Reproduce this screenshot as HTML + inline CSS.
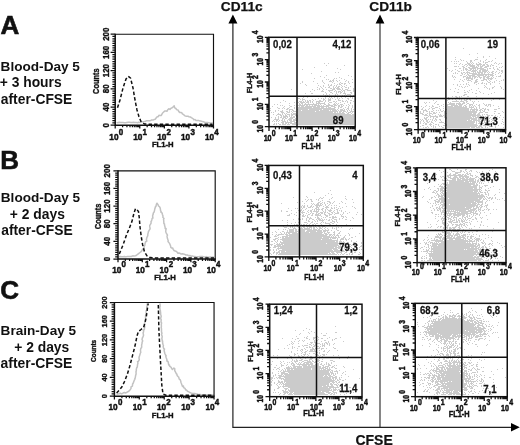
<!DOCTYPE html>
<html><head><meta charset="utf-8"><title>Figure</title><style>html,body{margin:0;padding:0;background:#fff}svg{display:block}</style></head><body>
<svg width="520" height="445" viewBox="0 0 520 445" font-family="'Liberation Sans', sans-serif" font-weight="bold">
<rect width="520" height="445" fill="#fff"/>
<text transform="translate(0.40,33.90)" font-size="26" text-anchor="start" fill="#111"  stroke="#111" stroke-width="0.6">A</text>
<text transform="translate(0.20,169.20)" font-size="26" text-anchor="start" fill="#111"  stroke="#111" stroke-width="0.6">B</text>
<text transform="translate(0.20,299.40)" font-size="26" text-anchor="start" fill="#111"  stroke="#111" stroke-width="0.6">C</text>
<text transform="translate(0.60,70.70)" font-size="13.6" text-anchor="start" fill="#111" >Blood-Day 5</text>
<text transform="translate(-0.30,87.40)" font-size="13.85" text-anchor="start" fill="#111" >+ 3 hours</text>
<text transform="translate(0.80,103.60)" font-size="13.85" text-anchor="start" fill="#111" >after-CFSE</text>
<text transform="translate(0.80,202.30)" font-size="13.6" text-anchor="start" fill="#111" >Blood-Day 5</text>
<text transform="translate(9.80,219.00)" font-size="13.85" text-anchor="start" fill="#111" >+ 2 days</text>
<text transform="translate(1.20,235.30)" font-size="13.85" text-anchor="start" fill="#111" >after-CFSE</text>
<text transform="translate(0.60,335.00)" font-size="13.6" text-anchor="start" fill="#111" >Brain-Day 5</text>
<text transform="translate(14.20,351.50)" font-size="13.85" text-anchor="start" fill="#111" >+ 2 days</text>
<text transform="translate(0.60,367.60)" font-size="13.9" text-anchor="start" fill="#111" >after-CFSE</text>
<text transform="translate(220.80,10.60)" font-size="13.7" text-anchor="start" fill="#111"  stroke="#111" stroke-width="0.25">CD11c</text>
<text transform="translate(369.30,10.60)" font-size="13.7" text-anchor="start" fill="#111"  stroke="#111" stroke-width="0.25">CD11b</text>
<text transform="translate(355.40,444.90)" font-size="14.0" text-anchor="start" fill="#111"  stroke="#111" stroke-width="0.2">CFSE</text>
<path d="M232.9 20V427.3H515" stroke="#222" stroke-width="1.2" fill="none"/>
<path d="M380 20V427.2" stroke="#222" stroke-width="1.1" fill="none"/>
<path d="M232.9 14.6l4.5 8.9h-9zM380 14.6l4.4 8.8h-8.8zM519.8 427.3l-8.8 4.2v-8.4z" fill="#000"/>
<path d="M116.5 122.6L118.0 122.7L119.1 122.3L120.4 122.5L121.7 122.5L123.0 122.5L124.2 122.7L125.7 122.8L126.9 122.4L128.2 122.2L129.6 122.3L130.8 122.4L132.3 122.5L133.4 122.3L134.8 122.4L136.0 122.4L137.5 122.8L138.6 122.3L140.0 122.4L141.3 121.7L142.6 121.7L144.2 121.6L145.2 121.5L146.7 120.7L148.0 120.8L149.3 120.7L150.8 120.4L151.6 120.0L153.1 120.1L154.0 119.5L155.2 119.2L156.3 117.7L157.2 116.7L158.0 116.8L158.9 115.3L160.0 115.5L161.1 115.4L161.6 114.9L162.4 113.2L163.4 112.3L164.7 111.1L166.0 111.0L167.1 111.3L167.6 110.0L168.8 108.7L169.9 109.4L171.0 108.2L172.2 107.8L173.3 106.7L174.2 105.8L174.7 107.9L176.0 108.5L176.5 109.6L178.0 110.0L178.7 111.4L179.9 112.6L181.0 112.5L182.0 112.9L182.2 113.7L183.8 114.8L185.0 115.9L186.3 116.3L188.0 116.3L189.0 116.7L190.3 116.9L191.3 117.7L193.0 118.6L193.9 119.9L195.0 119.4L195.8 120.4L197.4 120.6L199.0 120.6L200.3 121.0L201.2 121.1L202.5 121.6L203.5 121.8L204.7 122.2L206.0 122.5L207.3 122.5L208.8 122.7L210.0 122.9L211.4 122.9L212.8 123.0" stroke="#c2c2c2" stroke-width="1.5" fill="none" stroke-linejoin="round"/>
<path d="M117.5 107.8L120.0 100.0L123.0 88.0L126.0 79.0L128.3 76.3L130.5 78.0L133.0 88.0L135.0 100.0L137.0 110.0L139.0 116.8L141.0 121.5L144.5 124.0L150.0 124.3L212.5 124.3" stroke="#111" stroke-width="1.5" fill="none" stroke-dasharray="3.4 2.2" stroke-linejoin="round"/>
<path d="M115.2 34.2H213.5V125.2" fill="none" stroke="#111" stroke-width="1.15"/>
<path d="M115.2 33.7V125.2H214.0" fill="none" stroke="#111" stroke-width="1.5"/>
<path d="M115.20 125.2v3.2M139.78 125.2v3.2M164.35 125.2v3.2M188.93 125.2v3.2M213.50 125.2v3.2M122.60 125.2v2M126.93 125.2v2M130.00 125.2v2M132.38 125.2v2M134.32 125.2v2M135.97 125.2v2M137.39 125.2v2M138.65 125.2v2M147.17 125.2v2M151.50 125.2v2M154.57 125.2v2M156.95 125.2v2M158.90 125.2v2M160.54 125.2v2M161.97 125.2v2M163.23 125.2v2M171.75 125.2v2M176.08 125.2v2M179.15 125.2v2M181.53 125.2v2M183.47 125.2v2M185.12 125.2v2M186.54 125.2v2M187.80 125.2v2M196.32 125.2v2M200.65 125.2v2M203.72 125.2v2M206.10 125.2v2M208.05 125.2v2M209.69 125.2v2M211.12 125.2v2M212.38 125.2v2M115.2 125.20h-4.6M115.2 122.92h-2.8M115.2 120.65h-2.8M115.2 118.38h-2.8M115.2 116.10h-2.8M115.2 113.83h-2.8M115.2 111.55h-2.8M115.2 109.28h-2.8M115.2 107.00h-4.6M115.2 104.72h-2.8M115.2 102.45h-2.8M115.2 100.18h-2.8M115.2 97.90h-2.8M115.2 95.62h-2.8M115.2 93.35h-2.8M115.2 91.08h-2.8M115.2 88.80h-4.6M115.2 86.53h-2.8M115.2 84.25h-2.8M115.2 81.97h-2.8M115.2 79.70h-2.8M115.2 77.43h-2.8M115.2 75.15h-2.8M115.2 72.88h-2.8M115.2 70.60h-4.6M115.2 68.33h-2.8M115.2 66.05h-2.8M115.2 63.78h-2.8M115.2 61.50h-2.8M115.2 59.23h-2.8M115.2 56.95h-2.8M115.2 54.67h-2.8M115.2 52.40h-4.6M115.2 50.12h-2.8M115.2 47.85h-2.8M115.2 45.58h-2.8M115.2 43.30h-2.8M115.2 41.03h-2.8M115.2 38.75h-2.8M115.2 36.48h-2.8M115.2 34.20h-4.6" stroke="#111" stroke-width="1.25" fill="none"/>
<text transform="translate(109.33,139.80) scale(0.84,1)" font-size="9.8" text-anchor="start" fill="#111"  stroke="#111" stroke-width="0.5">10</text>
<text transform="translate(118.69,134.50) scale(0.84,1)" font-size="9.5" text-anchor="start" fill="#111"  stroke="#111" stroke-width="0.5">0</text>
<text transform="translate(133.23,139.80) scale(0.84,1)" font-size="9.8" text-anchor="start" fill="#111"  stroke="#111" stroke-width="0.5">10</text>
<text transform="translate(142.59,134.50) scale(0.84,1)" font-size="9.5" text-anchor="start" fill="#111"  stroke="#111" stroke-width="0.5">1</text>
<text transform="translate(157.13,139.80) scale(0.84,1)" font-size="9.8" text-anchor="start" fill="#111"  stroke="#111" stroke-width="0.5">10</text>
<text transform="translate(166.49,134.50) scale(0.84,1)" font-size="9.5" text-anchor="start" fill="#111"  stroke="#111" stroke-width="0.5">2</text>
<text transform="translate(181.03,139.80) scale(0.84,1)" font-size="9.8" text-anchor="start" fill="#111"  stroke="#111" stroke-width="0.5">10</text>
<text transform="translate(190.39,134.50) scale(0.84,1)" font-size="9.5" text-anchor="start" fill="#111"  stroke="#111" stroke-width="0.5">3</text>
<text transform="translate(204.93,139.80) scale(0.84,1)" font-size="9.8" text-anchor="start" fill="#111"  stroke="#111" stroke-width="0.5">10</text>
<text transform="translate(214.29,134.50) scale(0.84,1)" font-size="9.5" text-anchor="start" fill="#111"  stroke="#111" stroke-width="0.5">4</text>
<text transform="translate(108.60,125.20) rotate(-90) scale(0.95,1)" font-size="8.4" text-anchor="middle" fill="#111"  stroke="#111" stroke-width="0.35">0</text>
<text transform="translate(108.60,107.00) rotate(-90) scale(0.95,1)" font-size="8.4" text-anchor="middle" fill="#111"  stroke="#111" stroke-width="0.35">40</text>
<text transform="translate(108.60,88.80) rotate(-90) scale(0.95,1)" font-size="8.4" text-anchor="middle" fill="#111"  stroke="#111" stroke-width="0.35">80</text>
<text transform="translate(108.60,70.60) rotate(-90) scale(0.95,1)" font-size="8.4" text-anchor="middle" fill="#111"  stroke="#111" stroke-width="0.35">120</text>
<text transform="translate(108.60,52.40) rotate(-90) scale(0.95,1)" font-size="8.4" text-anchor="middle" fill="#111"  stroke="#111" stroke-width="0.35">160</text>
<text transform="translate(108.60,34.20) rotate(-90) scale(0.95,1)" font-size="8.4" text-anchor="middle" fill="#111"  stroke="#111" stroke-width="0.35">200</text>
<text transform="translate(99.00,81.20) rotate(-90) scale(0.9,1)" font-size="8.2" text-anchor="middle" fill="#111"  stroke="#111" stroke-width="0.35">Counts</text>
<text transform="translate(162.75,147.40) scale(0.96,1)" font-size="8.0" text-anchor="middle" fill="#111"  stroke="#111" stroke-width="0.4">FL1-H</text>
<path d="M119.0 256.7L120.3 256.4L121.8 256.7L123.1 256.7L124.4 256.5L125.9 256.9L127.3 256.5L128.7 256.4L130.0 256.5L131.3 256.5L132.7 255.8L134.0 255.9L135.5 255.7L136.6 255.2L137.6 254.3L138.9 253.3L140.0 252.5L141.1 251.7L141.6 251.0L142.4 249.6L143.6 248.6L144.0 247.6L144.2 246.1L144.8 245.5L145.0 243.7L145.6 241.7L146.8 241.2L146.5 240.0L146.4 239.4L146.9 237.5L147.8 235.6L147.8 234.3L148.3 232.4L148.3 231.9L149.0 230.6L149.6 229.7L150.1 228.6L149.8 226.9L149.7 225.3L150.3 224.7L151.1 223.1L151.0 221.3L151.5 221.0L151.8 219.9L152.2 218.2L152.9 218.1L152.6 215.9L152.8 215.1L153.2 214.1L153.5 212.6L154.1 212.1L154.6 210.1L154.8 208.7L154.9 208.8L155.5 206.5L155.9 206.5L156.4 204.4L157.0 203.2L158.0 204.6L158.5 206.0L159.4 206.6L160.0 207.5L160.3 208.6L160.6 210.7L161.2 211.9L160.9 212.1L162.2 213.1L162.4 214.4L163.0 216.1L162.8 217.3L164.0 218.5L163.5 219.5L163.7 220.3L163.9 223.7L164.5 224.0L164.5 225.0L165.1 227.3L165.2 228.6L165.6 228.8L166.1 228.6L165.7 231.3L165.9 232.2L166.3 233.2L167.5 235.1L167.0 236.0L167.3 238.0L167.7 239.1L168.2 240.8L168.0 241.6L168.8 242.5L169.3 243.0L170.0 244.4L170.7 246.3L170.7 247.2L171.7 248.1L172.6 247.9L173.2 249.4L174.0 250.5L175.3 251.1L176.5 251.4L177.9 253.2L178.8 253.0L180.0 253.3L181.2 254.0L182.7 253.7L183.5 254.0L184.7 254.3L186.0 255.0L187.3 255.0L188.7 255.7L189.8 255.5L191.1 256.2L192.3 255.9L193.7 256.4L195.0 256.6L196.2 256.9L197.6 256.8L198.7 256.7L200.1 256.4L201.4 256.5L202.6 256.6L204.0 256.9L205.2 257.1L206.3 256.6L207.6 257.1L208.9 257.2L210.3 256.9L211.5 257.2L212.7 256.9L214.0 257.2" stroke="#c2c2c2" stroke-width="1.5" fill="none" stroke-linejoin="round"/>
<path d="M119.3 254.0L123.0 245.0L126.5 235.0L129.0 229.0L131.9 221.6L134.0 213.0L135.5 208.6L137.0 209.5L138.5 211.7L139.3 218.0L140.0 227.0L141.3 237.0L142.7 245.0L144.5 252.0L147.0 255.8L150.0 257.6L154.0 258.0L214.0 258.0" stroke="#111" stroke-width="1.5" fill="none" stroke-dasharray="3.4 2.2" stroke-linejoin="round"/>
<path d="M118.0 170.8H215.2V259.0" fill="none" stroke="#111" stroke-width="1.15"/>
<path d="M118.0 170.3V259.0H215.7" fill="none" stroke="#111" stroke-width="1.5"/>
<path d="M118.00 259.0v3.2M142.30 259.0v3.2M166.60 259.0v3.2M190.90 259.0v3.2M215.20 259.0v3.2M125.32 259.0v2M129.59 259.0v2M132.63 259.0v2M134.98 259.0v2M136.91 259.0v2M138.54 259.0v2M139.95 259.0v2M141.19 259.0v2M149.62 259.0v2M153.89 259.0v2M156.93 259.0v2M159.28 259.0v2M161.21 259.0v2M162.84 259.0v2M164.25 259.0v2M165.49 259.0v2M173.92 259.0v2M178.19 259.0v2M181.23 259.0v2M183.58 259.0v2M185.51 259.0v2M187.14 259.0v2M188.55 259.0v2M189.79 259.0v2M198.22 259.0v2M202.49 259.0v2M205.53 259.0v2M207.88 259.0v2M209.81 259.0v2M211.44 259.0v2M212.85 259.0v2M214.09 259.0v2M118.0 259.00h-4.6M118.0 256.80h-2.8M118.0 254.59h-2.8M118.0 252.38h-2.8M118.0 250.18h-2.8M118.0 247.97h-2.8M118.0 245.77h-2.8M118.0 243.56h-2.8M118.0 241.36h-4.6M118.0 239.16h-2.8M118.0 236.95h-2.8M118.0 234.75h-2.8M118.0 232.54h-2.8M118.0 230.34h-2.8M118.0 228.13h-2.8M118.0 225.93h-2.8M118.0 223.72h-4.6M118.0 221.51h-2.8M118.0 219.31h-2.8M118.0 217.11h-2.8M118.0 214.90h-2.8M118.0 212.69h-2.8M118.0 210.49h-2.8M118.0 208.29h-2.8M118.0 206.08h-4.6M118.0 203.88h-2.8M118.0 201.67h-2.8M118.0 199.47h-2.8M118.0 197.26h-2.8M118.0 195.06h-2.8M118.0 192.85h-2.8M118.0 190.65h-2.8M118.0 188.44h-4.6M118.0 186.24h-2.8M118.0 184.03h-2.8M118.0 181.83h-2.8M118.0 179.62h-2.8M118.0 177.42h-2.8M118.0 175.21h-2.8M118.0 173.00h-2.8M118.0 170.80h-4.6" stroke="#111" stroke-width="1.25" fill="none"/>
<text transform="translate(112.13,272.70) scale(0.84,1)" font-size="9.8" text-anchor="start" fill="#111"  stroke="#111" stroke-width="0.5">10</text>
<text transform="translate(121.49,267.40) scale(0.84,1)" font-size="9.5" text-anchor="start" fill="#111"  stroke="#111" stroke-width="0.5">0</text>
<text transform="translate(135.76,272.70) scale(0.84,1)" font-size="9.8" text-anchor="start" fill="#111"  stroke="#111" stroke-width="0.5">10</text>
<text transform="translate(145.11,267.40) scale(0.84,1)" font-size="9.5" text-anchor="start" fill="#111"  stroke="#111" stroke-width="0.5">1</text>
<text transform="translate(159.38,272.70) scale(0.84,1)" font-size="9.8" text-anchor="start" fill="#111"  stroke="#111" stroke-width="0.5">10</text>
<text transform="translate(168.74,267.40) scale(0.84,1)" font-size="9.5" text-anchor="start" fill="#111"  stroke="#111" stroke-width="0.5">2</text>
<text transform="translate(183.01,272.70) scale(0.84,1)" font-size="9.8" text-anchor="start" fill="#111"  stroke="#111" stroke-width="0.5">10</text>
<text transform="translate(192.36,267.40) scale(0.84,1)" font-size="9.5" text-anchor="start" fill="#111"  stroke="#111" stroke-width="0.5">3</text>
<text transform="translate(206.63,272.70) scale(0.84,1)" font-size="9.8" text-anchor="start" fill="#111"  stroke="#111" stroke-width="0.5">10</text>
<text transform="translate(215.99,267.40) scale(0.84,1)" font-size="9.5" text-anchor="start" fill="#111"  stroke="#111" stroke-width="0.5">4</text>
<text transform="translate(110.20,259.00) rotate(-90) scale(0.95,1)" font-size="8.4" text-anchor="middle" fill="#111"  stroke="#111" stroke-width="0.35">0</text>
<text transform="translate(110.20,241.36) rotate(-90) scale(0.95,1)" font-size="8.4" text-anchor="middle" fill="#111"  stroke="#111" stroke-width="0.35">40</text>
<text transform="translate(110.20,223.72) rotate(-90) scale(0.95,1)" font-size="8.4" text-anchor="middle" fill="#111"  stroke="#111" stroke-width="0.35">80</text>
<text transform="translate(110.20,206.08) rotate(-90) scale(0.95,1)" font-size="8.4" text-anchor="middle" fill="#111"  stroke="#111" stroke-width="0.35">120</text>
<text transform="translate(110.20,188.44) rotate(-90) scale(0.95,1)" font-size="8.4" text-anchor="middle" fill="#111"  stroke="#111" stroke-width="0.35">160</text>
<text transform="translate(110.20,170.80) rotate(-90) scale(0.95,1)" font-size="8.4" text-anchor="middle" fill="#111"  stroke="#111" stroke-width="0.35">200</text>
<text transform="translate(101.00,216.40) rotate(-90) scale(0.85,1)" font-size="8.8" text-anchor="middle" fill="#111"  stroke="#111" stroke-width="0.35">Counts</text>
<text transform="translate(165.00,280.30) scale(0.96,1)" font-size="8.0" text-anchor="middle" fill="#111"  stroke="#111" stroke-width="0.4">FL1-H</text>
<path d="M116.5 394.3L117.8 394.0L119.1 393.8L120.4 393.3L121.8 393.9L123.1 393.0L124.3 392.5L125.6 393.0L126.6 392.4L127.4 392.0L128.5 391.3L129.4 390.7L130.2 389.6L131.0 388.6L131.0 386.9L131.8 386.5L132.4 386.1L132.6 384.0L133.3 383.0L133.7 381.7L134.2 380.4L134.8 379.3L135.1 378.3L135.5 376.4L135.5 376.0L135.9 374.5L136.1 374.1L136.0 371.4L136.3 371.0L136.3 369.6L136.7 367.7L137.3 367.0L137.4 365.9L137.6 364.2L138.0 363.0L137.5 361.6L138.5 361.2L139.3 359.7L139.0 358.0L139.3 356.3L139.5 356.1L140.1 354.0L140.1 353.8L140.8 352.3L140.5 351.0L140.6 349.4L140.9 348.2L141.5 347.9L141.7 346.7L141.6 345.0L142.0 343.6L142.1 342.3L142.7 340.9L142.0 339.5L142.5 337.5L142.7 337.5L143.5 335.4L143.5 334.9L143.1 332.9L143.6 331.7L143.3 330.1L144.3 329.7L144.6 327.5L144.8 326.7L144.5 325.0L144.3 324.1L144.8 322.7L145.0 321.8L145.3 319.7L145.7 318.7L145.5 318.0L145.6 315.7L145.8 314.0L146.0 314.5L146.1 312.2L146.2 310.6L147.1 310.1L146.7 308.4L146.8 306.6L147.2 305.8L147.1 304.1L147.6 303.4M159.9 303.4L160.1 305.1L160.2 306.0L159.8 307.3L160.0 309.2L160.4 310.5L160.3 310.4L160.7 313.4L160.1 314.1L160.9 314.8L161.2 316.5L160.5 318.8L160.9 319.0L161.2 319.6L161.0 322.0L161.6 322.9L161.3 324.4L161.4 326.4L161.2 327.6L161.4 328.1L161.5 329.2L161.5 331.6L161.8 333.0L162.0 333.1L161.5 334.6L162.2 336.3L162.0 338.2L161.8 338.2L162.4 341.4L162.6 340.9L162.6 342.8L163.0 344.5L163.4 345.2L163.2 346.8L163.8 348.9L164.5 349.0L164.1 350.7L164.5 352.0L164.8 353.5L165.4 354.7L166.1 355.7L165.8 356.2L166.2 357.8L166.9 359.6L166.9 361.0L168.0 361.5L168.2 362.0L168.7 364.9L169.5 365.0L169.6 366.2L171.2 367.3L171.7 368.7L172.5 369.4L172.9 369.0L173.9 368.0L174.8 368.8L174.7 370.7L175.5 372.0L176.4 373.9L176.9 373.9L177.1 375.5L178.0 376.5L178.7 377.1L179.2 379.1L180.1 379.6L180.6 380.7L181.0 382.5L181.4 383.5L182.5 386.4L182.7 385.9L183.4 386.0L183.7 387.7L184.8 388.1L185.9 390.1L186.6 390.1L187.5 391.3L188.9 391.9L189.8 392.5L190.7 392.9L192.0 393.3L193.4 393.6L194.7 393.5L196.1 394.0L197.3 394.1L198.7 394.6L200.0 394.6L201.3 394.8L202.6 394.9L203.8 394.7L205.1 394.7L206.4 394.9L207.6 394.8L208.8 395.0L210.2 394.9L211.4 394.9L212.7 395.0L214.0 395.0" stroke="#c2c2c2" stroke-width="1.5" fill="none" stroke-linejoin="round"/>
<path d="M116.6 393.0L119.0 390.5L122.0 386.8L124.5 381.5L127.4 374.0L129.5 367.0L131.9 358.0L133.7 351.0L135.5 343.6L137.0 336.0L138.4 331.5L141.0 329.5L143.6 327.4L145.0 323.0L146.3 316.6L147.5 308.0L148.2 303.5M158.3 305.0L158.9 330.0L160.3 358.0L161.8 385.0L163.0 394.0L166.0 395.3L213.0 395.3" stroke="#111" stroke-width="1.5" fill="none" stroke-dasharray="3.4 2.2" stroke-linejoin="round"/>
<path d="M114.4 302.5H214.05V396.2" fill="none" stroke="#111" stroke-width="1.15"/>
<path d="M114.4 302.0V396.2H214.55" fill="none" stroke="#111" stroke-width="1.5"/>
<path d="M114.40 396.2v3.2M139.31 396.2v3.2M164.23 396.2v3.2M189.14 396.2v3.2M214.05 396.2v3.2M121.90 396.2v2M126.29 396.2v2M129.40 396.2v2M131.81 396.2v2M133.79 396.2v2M135.45 396.2v2M136.90 396.2v2M138.17 396.2v2M146.81 396.2v2M151.20 396.2v2M154.31 396.2v2M156.73 396.2v2M158.70 396.2v2M160.37 396.2v2M161.81 396.2v2M163.09 396.2v2M171.72 396.2v2M176.11 396.2v2M179.22 396.2v2M181.64 396.2v2M183.61 396.2v2M185.28 396.2v2M186.72 396.2v2M188.00 396.2v2M196.64 396.2v2M201.02 396.2v2M204.14 396.2v2M206.55 396.2v2M208.52 396.2v2M210.19 396.2v2M211.64 396.2v2M212.91 396.2v2M114.4 396.20h-4.6M114.4 393.86h-2.8M114.4 391.51h-2.8M114.4 389.17h-2.8M114.4 386.83h-2.8M114.4 384.49h-2.8M114.4 382.14h-2.8M114.4 379.80h-2.8M114.4 377.46h-4.6M114.4 375.12h-2.8M114.4 372.77h-2.8M114.4 370.43h-2.8M114.4 368.09h-2.8M114.4 365.75h-2.8M114.4 363.40h-2.8M114.4 361.06h-2.8M114.4 358.72h-4.6M114.4 356.38h-2.8M114.4 354.03h-2.8M114.4 351.69h-2.8M114.4 349.35h-2.8M114.4 347.01h-2.8M114.4 344.67h-2.8M114.4 342.32h-2.8M114.4 339.98h-4.6M114.4 337.64h-2.8M114.4 335.30h-2.8M114.4 332.95h-2.8M114.4 330.61h-2.8M114.4 328.27h-2.8M114.4 325.93h-2.8M114.4 323.58h-2.8M114.4 321.24h-4.6M114.4 318.90h-2.8M114.4 316.56h-2.8M114.4 314.21h-2.8M114.4 311.87h-2.8M114.4 309.53h-2.8M114.4 307.19h-2.8M114.4 304.84h-2.8M114.4 302.50h-4.6" stroke="#111" stroke-width="1.25" fill="none"/>
<text transform="translate(108.53,410.40) scale(0.84,1)" font-size="9.8" text-anchor="start" fill="#111"  stroke="#111" stroke-width="0.5">10</text>
<text transform="translate(117.89,405.10) scale(0.84,1)" font-size="9.5" text-anchor="start" fill="#111"  stroke="#111" stroke-width="0.5">0</text>
<text transform="translate(132.77,410.40) scale(0.84,1)" font-size="9.8" text-anchor="start" fill="#111"  stroke="#111" stroke-width="0.5">10</text>
<text transform="translate(142.13,405.10) scale(0.84,1)" font-size="9.5" text-anchor="start" fill="#111"  stroke="#111" stroke-width="0.5">1</text>
<text transform="translate(157.01,410.40) scale(0.84,1)" font-size="9.8" text-anchor="start" fill="#111"  stroke="#111" stroke-width="0.5">10</text>
<text transform="translate(166.36,405.10) scale(0.84,1)" font-size="9.5" text-anchor="start" fill="#111"  stroke="#111" stroke-width="0.5">2</text>
<text transform="translate(181.25,410.40) scale(0.84,1)" font-size="9.8" text-anchor="start" fill="#111"  stroke="#111" stroke-width="0.5">10</text>
<text transform="translate(190.60,405.10) scale(0.84,1)" font-size="9.5" text-anchor="start" fill="#111"  stroke="#111" stroke-width="0.5">3</text>
<text transform="translate(205.48,410.40) scale(0.84,1)" font-size="9.8" text-anchor="start" fill="#111"  stroke="#111" stroke-width="0.5">10</text>
<text transform="translate(214.84,405.10) scale(0.84,1)" font-size="9.5" text-anchor="start" fill="#111"  stroke="#111" stroke-width="0.5">4</text>
<text transform="translate(107.30,396.20) rotate(-90) scale(0.95,1)" font-size="7.8" text-anchor="middle" fill="#111"  stroke="#111" stroke-width="0.35">0</text>
<text transform="translate(107.30,377.46) rotate(-90) scale(0.95,1)" font-size="7.8" text-anchor="middle" fill="#111"  stroke="#111" stroke-width="0.35">40</text>
<text transform="translate(107.30,358.72) rotate(-90) scale(0.95,1)" font-size="7.8" text-anchor="middle" fill="#111"  stroke="#111" stroke-width="0.35">80</text>
<text transform="translate(107.30,339.98) rotate(-90) scale(0.95,1)" font-size="7.8" text-anchor="middle" fill="#111"  stroke="#111" stroke-width="0.35">120</text>
<text transform="translate(107.30,321.24) rotate(-90) scale(0.95,1)" font-size="7.8" text-anchor="middle" fill="#111"  stroke="#111" stroke-width="0.35">160</text>
<text transform="translate(107.30,302.50) rotate(-90) scale(0.95,1)" font-size="7.8" text-anchor="middle" fill="#111"  stroke="#111" stroke-width="0.35">200</text>
<text transform="translate(95.80,350.85) rotate(-90) scale(0.88,1)" font-size="7.3" text-anchor="middle" fill="#111"  stroke="#111" stroke-width="0.35">Counts</text>
<text transform="translate(162.63,417.50) scale(0.96,1)" font-size="8.0" text-anchor="middle" fill="#111"  stroke="#111" stroke-width="0.4">FL1-H</text>
<path d="M324 63h1v1h-1zM328 63h1v1h-1zM326 65h1v1h-1zM344 65h1v1h-1zM314 67h1v1h-1zM337 68h1v1h-1zM302 69h1v1h-1zM340 69h1v1h-1zM321 71h1v1h-1zM335 72h1v1h-1zM338 72h1v1h-1zM311 73h1v1h-1zM326 75h1v1h-1zM348 75h1v1h-1zM320 76h1v1h-1zM351 76h1v1h-1zM324 77h1v1h-1zM339 77h1v1h-1zM314 78h1v1h-1zM334 78h1v1h-1zM336 78h1v1h-1zM341 78h1v1h-1zM326 79h1v1h-1zM328 79h1v1h-1zM333 79h1v1h-1zM344 79h1v1h-1zM352 79h1v1h-1zM322 80h1v1h-1zM330 80h1v1h-1zM332 80h2v1h-2zM336 80h1v1h-1zM339 80h1v1h-1zM346 80h1v1h-1zM302 81h1v1h-1zM313 81h1v1h-1zM322 81h1v1h-1zM329 81h3v1h-3zM333 81h1v1h-1zM337 81h1v1h-1zM345 81h1v1h-1zM348 81h1v1h-1zM302 82h1v1h-1zM323 82h1v1h-1zM332 82h1v1h-1zM340 82h1v1h-1zM348 82h1v1h-1zM352 82h1v1h-1zM300 83h1v1h-1zM317 83h1v1h-1zM324 83h1v1h-1zM334 83h1v1h-1zM339 83h1v1h-1zM341 83h2v1h-2zM344 83h2v1h-2zM349 83h1v1h-1zM305 84h1v1h-1zM328 84h1v1h-1zM331 84h1v1h-1zM337 84h1v1h-1zM339 84h2v1h-2zM344 84h1v1h-1zM306 85h1v1h-1zM318 85h1v1h-1zM323 85h1v1h-1zM328 85h1v1h-1zM330 85h2v1h-2zM334 85h1v1h-1zM336 85h1v1h-1zM341 85h1v1h-1zM346 85h1v1h-1zM320 86h1v1h-1zM323 86h1v1h-1zM329 86h1v1h-1zM333 86h1v1h-1zM336 86h1v1h-1zM338 86h2v1h-2zM342 86h1v1h-1zM344 86h1v1h-1zM350 86h1v1h-1zM317 87h1v1h-1zM321 87h1v1h-1zM325 87h1v1h-1zM328 87h2v1h-2zM333 87h1v1h-1zM335 87h1v1h-1zM337 87h2v1h-2zM341 87h1v1h-1zM345 87h2v1h-2zM348 87h1v1h-1zM319 88h1v1h-1zM322 88h1v1h-1zM330 88h2v1h-2zM333 88h2v1h-2zM336 88h4v1h-4zM342 88h1v1h-1zM348 88h1v1h-1zM353 88h1v1h-1zM291 89h1v1h-1zM312 89h1v1h-1zM317 89h1v1h-1zM319 89h1v1h-1zM323 89h1v1h-1zM326 89h1v1h-1zM332 89h3v1h-3zM337 89h4v1h-4zM342 89h1v1h-1zM345 89h3v1h-3zM353 89h1v1h-1zM314 90h1v1h-1zM322 90h1v1h-1zM328 90h5v1h-5zM335 90h1v1h-1zM341 90h1v1h-1zM343 90h2v1h-2zM347 90h4v1h-4zM353 90h1v1h-1zM310 91h1v1h-1zM321 91h3v1h-3zM329 91h1v1h-1zM334 91h1v1h-1zM336 91h1v1h-1zM338 91h3v1h-3zM342 91h1v1h-1zM344 91h1v1h-1zM353 91h1v1h-1zM325 92h1v1h-1zM330 92h2v1h-2zM336 92h1v1h-1zM338 92h1v1h-1zM340 92h2v1h-2zM344 92h1v1h-1zM350 92h2v1h-2zM305 93h1v1h-1zM311 93h2v1h-2zM326 93h1v1h-1zM332 93h1v1h-1zM336 93h1v1h-1zM340 93h1v1h-1zM343 93h3v1h-3zM351 93h1v1h-1zM323 94h1v1h-1zM326 94h1v1h-1zM329 94h1v1h-1zM335 94h1v1h-1zM337 94h1v1h-1zM345 94h1v1h-1zM347 94h4v1h-4zM325 95h1v1h-1zM327 95h1v1h-1zM335 95h1v1h-1zM342 95h1v1h-1zM344 95h1v1h-1zM346 95h1v1h-1zM350 95h1v1h-1zM353 95h1v1h-1zM312 96h1v1h-1zM323 96h2v1h-2zM329 96h1v1h-1zM332 96h1v1h-1zM334 96h1v1h-1zM336 96h5v1h-5zM342 96h1v1h-1zM344 96h1v1h-1zM351 96h2v1h-2zM303 97h1v1h-1zM307 97h1v1h-1zM325 97h1v1h-1zM329 97h1v1h-1zM331 97h1v1h-1zM334 97h1v1h-1zM337 97h1v1h-1zM341 97h1v1h-1zM345 97h1v1h-1zM350 97h1v1h-1zM352 97h1v1h-1zM298 98h2v1h-2zM302 98h1v1h-1zM318 98h1v1h-1zM321 98h1v1h-1zM323 98h1v1h-1zM325 98h1v1h-1zM328 98h1v1h-1zM330 98h1v1h-1zM332 98h1v1h-1zM337 98h1v1h-1zM339 98h1v1h-1zM342 98h1v1h-1zM347 98h2v1h-2zM352 98h1v1h-1zM300 99h1v1h-1zM302 99h3v1h-3zM312 99h1v1h-1zM315 99h1v1h-1zM323 99h2v1h-2zM328 99h3v1h-3zM335 99h1v1h-1zM338 99h1v1h-1zM348 99h1v1h-1zM283 100h1v1h-1zM302 100h1v1h-1zM305 100h1v1h-1zM307 100h1v1h-1zM309 100h2v1h-2zM313 100h1v1h-1zM319 100h2v1h-2zM323 100h1v1h-1zM325 100h1v1h-1zM328 100h3v1h-3zM338 100h3v1h-3zM342 100h1v1h-1zM346 100h1v1h-1zM350 100h2v1h-2zM285 101h1v1h-1zM299 101h3v1h-3zM303 101h1v1h-1zM305 101h1v1h-1zM307 101h2v1h-2zM310 101h1v1h-1zM312 101h1v1h-1zM316 101h7v1h-7zM325 101h1v1h-1zM328 101h1v1h-1zM333 101h2v1h-2zM336 101h1v1h-1zM342 101h2v1h-2zM345 101h1v1h-1zM347 101h1v1h-1zM353 101h1v1h-1zM280 102h1v1h-1zM294 102h1v1h-1zM298 102h1v1h-1zM300 102h5v1h-5zM306 102h3v1h-3zM310 102h1v1h-1zM312 102h1v1h-1zM316 102h1v1h-1zM318 102h2v1h-2zM324 102h1v1h-1zM329 102h3v1h-3zM335 102h1v1h-1zM340 102h1v1h-1zM347 102h1v1h-1zM350 102h1v1h-1zM289 103h1v1h-1zM299 103h1v1h-1zM301 103h2v1h-2zM305 103h1v1h-1zM308 103h1v1h-1zM313 103h1v1h-1zM316 103h9v1h-9zM328 103h1v1h-1zM334 103h1v1h-1zM336 103h1v1h-1zM338 103h1v1h-1zM344 103h1v1h-1zM350 103h1v1h-1zM274 104h1v1h-1zM277 104h1v1h-1zM299 104h2v1h-2zM302 104h1v1h-1zM304 104h13v1h-13zM318 104h1v1h-1zM320 104h1v1h-1zM324 104h2v1h-2zM328 104h2v1h-2zM333 104h3v1h-3zM337 104h1v1h-1zM340 104h3v1h-3zM348 104h1v1h-1zM280 105h1v1h-1zM282 105h1v1h-1zM289 105h1v1h-1zM294 105h1v1h-1zM298 105h7v1h-7zM306 105h2v1h-2zM309 105h1v1h-1zM312 105h1v1h-1zM314 105h6v1h-6zM321 105h1v1h-1zM323 105h1v1h-1zM326 105h7v1h-7zM334 105h3v1h-3zM338 105h2v1h-2zM341 105h1v1h-1zM343 105h1v1h-1zM346 105h1v1h-1zM349 105h1v1h-1zM352 105h1v1h-1zM272 106h1v1h-1zM284 106h1v1h-1zM290 106h2v1h-2zM299 106h1v1h-1zM301 106h3v1h-3zM305 106h11v1h-11zM317 106h12v1h-12zM331 106h4v1h-4zM338 106h2v1h-2zM341 106h2v1h-2zM348 106h1v1h-1zM352 106h1v1h-1zM277 107h1v1h-1zM283 107h1v1h-1zM289 107h1v1h-1zM294 107h1v1h-1zM298 107h14v1h-14zM313 107h7v1h-7zM321 107h3v1h-3zM326 107h1v1h-1zM328 107h3v1h-3zM334 107h2v1h-2zM338 107h1v1h-1zM340 107h2v1h-2zM345 107h1v1h-1zM348 107h1v1h-1zM352 107h1v1h-1zM270 108h1v1h-1zM278 108h2v1h-2zM282 108h1v1h-1zM284 108h1v1h-1zM287 108h2v1h-2zM294 108h1v1h-1zM298 108h37v1h-37zM338 108h1v1h-1zM343 108h1v1h-1zM347 108h2v1h-2zM351 108h1v1h-1zM286 109h2v1h-2zM289 109h4v1h-4zM297 109h11v1h-11zM309 109h13v1h-13zM323 109h13v1h-13zM337 109h1v1h-1zM340 109h3v1h-3zM344 109h1v1h-1zM346 109h1v1h-1zM348 109h1v1h-1zM351 109h1v1h-1zM353 109h1v1h-1zM270 110h1v1h-1zM275 110h1v1h-1zM278 110h1v1h-1zM282 110h1v1h-1zM289 110h1v1h-1zM292 110h2v1h-2zM298 110h3v1h-3zM302 110h17v1h-17zM320 110h9v1h-9zM330 110h1v1h-1zM332 110h5v1h-5zM338 110h1v1h-1zM340 110h5v1h-5zM347 110h1v1h-1zM349 110h1v1h-1zM351 110h1v1h-1zM275 111h1v1h-1zM280 111h3v1h-3zM286 111h2v1h-2zM289 111h1v1h-1zM291 111h1v1h-1zM293 111h3v1h-3zM298 111h17v1h-17zM316 111h22v1h-22zM339 111h3v1h-3zM343 111h3v1h-3zM347 111h1v1h-1zM350 111h4v1h-4zM271 112h1v1h-1zM273 112h1v1h-1zM281 112h3v1h-3zM287 112h3v1h-3zM292 112h1v1h-1zM298 112h35v1h-35zM334 112h2v1h-2zM337 112h1v1h-1zM339 112h2v1h-2zM342 112h2v1h-2zM346 112h1v1h-1zM348 112h3v1h-3zM352 112h1v1h-1zM278 113h1v1h-1zM282 113h1v1h-1zM284 113h1v1h-1zM286 113h1v1h-1zM291 113h1v1h-1zM293 113h3v1h-3zM298 113h47v1h-47zM347 113h2v1h-2zM351 113h1v1h-1zM273 114h1v1h-1zM277 114h4v1h-4zM282 114h1v1h-1zM285 114h1v1h-1zM287 114h3v1h-3zM291 114h6v1h-6zM298 114h53v1h-53zM352 114h2v1h-2zM276 115h1v1h-1zM280 115h2v1h-2zM283 115h1v1h-1zM285 115h2v1h-2zM289 115h1v1h-1zM291 115h2v1h-2zM295 115h59v1h-59zM278 116h1v1h-1zM281 116h1v1h-1zM283 116h5v1h-5zM289 116h1v1h-1zM291 116h1v1h-1zM293 116h2v1h-2zM296 116h58v1h-58zM271 117h1v1h-1zM275 117h1v1h-1zM278 117h1v1h-1zM280 117h2v1h-2zM283 117h3v1h-3zM287 117h1v1h-1zM290 117h5v1h-5zM297 117h57v1h-57zM275 118h1v1h-1zM278 118h1v1h-1zM282 118h2v1h-2zM285 118h2v1h-2zM289 118h4v1h-4zM295 118h1v1h-1zM297 118h57v1h-57zM274 119h5v1h-5zM282 119h1v1h-1zM284 119h1v1h-1zM288 119h4v1h-4zM293 119h3v1h-3zM297 119h57v1h-57zM273 120h1v1h-1zM276 120h2v1h-2zM279 120h1v1h-1zM281 120h2v1h-2zM284 120h1v1h-1zM287 120h1v1h-1zM289 120h3v1h-3zM293 120h61v1h-61zM272 121h1v1h-1zM274 121h1v1h-1zM276 121h1v1h-1zM278 121h1v1h-1zM282 121h4v1h-4zM287 121h1v1h-1zM290 121h5v1h-5zM297 121h57v1h-57zM281 122h3v1h-3zM285 122h7v1h-7zM294 122h3v1h-3zM298 122h56v1h-56zM274 123h1v1h-1zM276 123h1v1h-1zM278 123h1v1h-1zM282 123h2v1h-2zM285 123h2v1h-2zM288 123h1v1h-1zM290 123h6v1h-6zM298 123h56v1h-56zM273 124h2v1h-2zM276 124h1v1h-1zM279 124h2v1h-2zM282 124h4v1h-4zM287 124h3v1h-3zM292 124h4v1h-4zM297 124h57v1h-57z" fill="#cbcbcb"/>
<rect x="269.0" y="37.3" width="86.20" height="89.40" fill="none" stroke="#111" stroke-width="1.5"/>
<path d="M297.0 37.3V126.7M269.0 96.3H355.2" stroke="#111" stroke-width="1.5" fill="none"/>
<path d="M269.00 126.7v4.2M290.55 126.7v4.2M312.10 126.7v4.2M333.65 126.7v4.2M355.20 126.7v4.2M275.49 126.7v2.6M279.28 126.7v2.6M281.97 126.7v2.6M284.06 126.7v2.6M285.77 126.7v2.6M287.21 126.7v2.6M288.46 126.7v2.6M289.56 126.7v2.6M297.04 126.7v2.6M300.83 126.7v2.6M303.52 126.7v2.6M305.61 126.7v2.6M307.32 126.7v2.6M308.76 126.7v2.6M310.01 126.7v2.6M311.11 126.7v2.6M318.59 126.7v2.6M322.38 126.7v2.6M325.07 126.7v2.6M327.16 126.7v2.6M328.87 126.7v2.6M330.31 126.7v2.6M331.56 126.7v2.6M332.66 126.7v2.6M340.14 126.7v2.6M343.93 126.7v2.6M346.62 126.7v2.6M348.71 126.7v2.6M350.42 126.7v2.6M351.86 126.7v2.6M353.11 126.7v2.6M354.21 126.7v2.6M269.0 126.70h-4.2M269.0 104.35h-4.2M269.0 82.00h-4.2M269.0 59.65h-4.2M269.0 37.30h-4.2M269.0 119.97h-2.6M269.0 116.04h-2.6M269.0 113.24h-2.6M269.0 111.08h-2.6M269.0 109.31h-2.6M269.0 107.81h-2.6M269.0 106.52h-2.6M269.0 105.37h-2.6M269.0 97.62h-2.6M269.0 93.69h-2.6M269.0 90.89h-2.6M269.0 88.73h-2.6M269.0 86.96h-2.6M269.0 85.46h-2.6M269.0 84.17h-2.6M269.0 83.02h-2.6M269.0 75.27h-2.6M269.0 71.34h-2.6M269.0 68.54h-2.6M269.0 66.38h-2.6M269.0 64.61h-2.6M269.0 63.11h-2.6M269.0 61.82h-2.6M269.0 60.67h-2.6M269.0 52.92h-2.6M269.0 48.99h-2.6M269.0 46.19h-2.6M269.0 44.03h-2.6M269.0 42.26h-2.6M269.0 40.76h-2.6M269.0 39.47h-2.6M269.0 38.32h-2.6" stroke="#111" stroke-width="1.3" fill="none"/>
<text transform="translate(263.63,140.90) scale(0.77,1)" font-size="9.3" text-anchor="start" fill="#111"  stroke="#111" stroke-width="0.5">10</text>
<text transform="translate(271.79,135.80) scale(0.77,1)" font-size="9.0" text-anchor="start" fill="#111"  stroke="#111" stroke-width="0.5">0</text>
<text transform="translate(284.98,140.90) scale(0.77,1)" font-size="9.3" text-anchor="start" fill="#111"  stroke="#111" stroke-width="0.5">10</text>
<text transform="translate(293.14,135.80) scale(0.77,1)" font-size="9.0" text-anchor="start" fill="#111"  stroke="#111" stroke-width="0.5">1</text>
<text transform="translate(306.33,140.90) scale(0.77,1)" font-size="9.3" text-anchor="start" fill="#111"  stroke="#111" stroke-width="0.5">10</text>
<text transform="translate(314.49,135.80) scale(0.77,1)" font-size="9.0" text-anchor="start" fill="#111"  stroke="#111" stroke-width="0.5">2</text>
<text transform="translate(327.68,140.90) scale(0.77,1)" font-size="9.3" text-anchor="start" fill="#111"  stroke="#111" stroke-width="0.5">10</text>
<text transform="translate(335.84,135.80) scale(0.77,1)" font-size="9.0" text-anchor="start" fill="#111"  stroke="#111" stroke-width="0.5">3</text>
<text transform="translate(349.03,140.90) scale(0.77,1)" font-size="9.3" text-anchor="start" fill="#111"  stroke="#111" stroke-width="0.5">10</text>
<text transform="translate(357.19,135.80) scale(0.77,1)" font-size="9.0" text-anchor="start" fill="#111"  stroke="#111" stroke-width="0.5">4</text>
<text transform="translate(262.70,132.50) rotate(-90) scale(0.77,1)" font-size="8.8" text-anchor="start" fill="#111"  stroke="#111" stroke-width="0.5">10</text>
<text transform="translate(258.40,123.67) rotate(-90) scale(0.77,1)" font-size="8.8" text-anchor="start" fill="#111"  stroke="#111" stroke-width="0.5">0</text>
<text transform="translate(262.70,110.15) rotate(-90) scale(0.77,1)" font-size="8.8" text-anchor="start" fill="#111"  stroke="#111" stroke-width="0.5">10</text>
<text transform="translate(258.40,101.32) rotate(-90) scale(0.77,1)" font-size="8.8" text-anchor="start" fill="#111"  stroke="#111" stroke-width="0.5">1</text>
<text transform="translate(262.70,87.80) rotate(-90) scale(0.77,1)" font-size="8.8" text-anchor="start" fill="#111"  stroke="#111" stroke-width="0.5">10</text>
<text transform="translate(258.40,78.97) rotate(-90) scale(0.77,1)" font-size="8.8" text-anchor="start" fill="#111"  stroke="#111" stroke-width="0.5">2</text>
<text transform="translate(262.70,65.45) rotate(-90) scale(0.77,1)" font-size="8.8" text-anchor="start" fill="#111"  stroke="#111" stroke-width="0.5">10</text>
<text transform="translate(258.40,56.62) rotate(-90) scale(0.77,1)" font-size="8.8" text-anchor="start" fill="#111"  stroke="#111" stroke-width="0.5">3</text>
<text transform="translate(262.70,43.10) rotate(-90) scale(0.77,1)" font-size="8.8" text-anchor="start" fill="#111"  stroke="#111" stroke-width="0.5">10</text>
<text transform="translate(258.40,34.27) rotate(-90) scale(0.77,1)" font-size="8.8" text-anchor="start" fill="#111"  stroke="#111" stroke-width="0.5">4</text>
<text transform="translate(252.20,83.00) rotate(-90) scale(0.97,1)" font-size="7.5" text-anchor="middle" fill="#111"  stroke="#111" stroke-width="0.4">FL4-H</text>
<text transform="translate(311.00,148.60) scale(0.83,1)" font-size="8.2" text-anchor="middle" fill="#111"  stroke="#111" stroke-width="0.4">FL1-H</text>
<text transform="translate(273.10,48.20) scale(0.96,1)" font-size="10.0" text-anchor="start" fill="#111"  stroke="#111" stroke-width="0.25">0,02</text>
<text transform="translate(351.30,48.20) scale(0.96,1)" font-size="10.0" text-anchor="end" fill="#111"  stroke="#111" stroke-width="0.25">4,12</text>
<text transform="translate(343.50,123.70) scale(0.96,1)" font-size="10.0" text-anchor="end" fill="#111"  stroke="#111" stroke-width="0.25">89</text>
<path d="M463 48h1v1h-1zM477 53h1v1h-1zM469 54h1v1h-1zM483 56h1v1h-1zM489 56h1v1h-1zM455 57h1v1h-1zM477 57h1v1h-1zM483 57h1v1h-1zM495 58h1v1h-1zM455 59h1v1h-1zM460 59h1v1h-1zM475 59h3v1h-3zM486 59h1v1h-1zM461 60h1v1h-1zM463 60h1v1h-1zM470 60h2v1h-2zM474 60h1v1h-1zM480 60h1v1h-1zM485 60h1v1h-1zM492 60h1v1h-1zM451 61h1v1h-1zM454 61h1v1h-1zM456 61h1v1h-1zM458 61h1v1h-1zM466 61h1v1h-1zM470 61h2v1h-2zM480 61h1v1h-1zM483 61h1v1h-1zM488 61h2v1h-2zM491 61h1v1h-1zM467 62h1v1h-1zM470 62h1v1h-1zM472 62h1v1h-1zM478 62h1v1h-1zM483 62h1v1h-1zM485 62h3v1h-3zM495 62h1v1h-1zM454 63h1v1h-1zM456 63h1v1h-1zM460 63h1v1h-1zM467 63h3v1h-3zM471 63h1v1h-1zM473 63h1v1h-1zM476 63h1v1h-1zM479 63h2v1h-2zM485 63h1v1h-1zM494 63h1v1h-1zM496 63h1v1h-1zM499 63h1v1h-1zM501 63h1v1h-1zM459 64h1v1h-1zM462 64h1v1h-1zM465 64h2v1h-2zM468 64h3v1h-3zM472 64h1v1h-1zM476 64h6v1h-6zM483 64h2v1h-2zM486 64h2v1h-2zM491 64h1v1h-1zM498 64h1v1h-1zM464 65h1v1h-1zM467 65h1v1h-1zM469 65h6v1h-6zM477 65h2v1h-2zM480 65h1v1h-1zM482 65h3v1h-3zM487 65h2v1h-2zM490 65h1v1h-1zM492 65h2v1h-2zM454 66h3v1h-3zM458 66h1v1h-1zM462 66h2v1h-2zM466 66h1v1h-1zM470 66h5v1h-5zM476 66h1v1h-1zM478 66h1v1h-1zM480 66h3v1h-3zM485 66h4v1h-4zM490 66h1v1h-1zM496 66h1v1h-1zM502 66h1v1h-1zM463 67h2v1h-2zM468 67h2v1h-2zM472 67h6v1h-6zM480 67h2v1h-2zM484 67h3v1h-3zM493 67h1v1h-1zM499 67h1v1h-1zM501 67h1v1h-1zM447 68h1v1h-1zM459 68h2v1h-2zM463 68h1v1h-1zM465 68h2v1h-2zM469 68h7v1h-7zM477 68h7v1h-7zM487 68h1v1h-1zM489 68h2v1h-2zM493 68h1v1h-1zM497 68h1v1h-1zM455 69h1v1h-1zM463 69h1v1h-1zM465 69h3v1h-3zM470 69h2v1h-2zM473 69h1v1h-1zM475 69h1v1h-1zM477 69h1v1h-1zM480 69h6v1h-6zM487 69h1v1h-1zM494 69h1v1h-1zM497 69h2v1h-2zM449 70h1v1h-1zM452 70h1v1h-1zM457 70h1v1h-1zM461 70h1v1h-1zM463 70h1v1h-1zM466 70h1v1h-1zM468 70h3v1h-3zM472 70h5v1h-5zM479 70h2v1h-2zM482 70h6v1h-6zM499 70h1v1h-1zM501 70h2v1h-2zM451 71h1v1h-1zM458 71h2v1h-2zM467 71h1v1h-1zM471 71h5v1h-5zM477 71h1v1h-1zM479 71h2v1h-2zM482 71h5v1h-5zM488 71h1v1h-1zM492 71h2v1h-2zM496 71h1v1h-1zM501 71h2v1h-2zM455 72h1v1h-1zM461 72h1v1h-1zM463 72h2v1h-2zM466 72h4v1h-4zM473 72h1v1h-1zM475 72h1v1h-1zM477 72h6v1h-6zM484 72h2v1h-2zM487 72h1v1h-1zM489 72h1v1h-1zM491 72h2v1h-2zM495 72h1v1h-1zM499 72h1v1h-1zM502 72h1v1h-1zM453 73h1v1h-1zM455 73h1v1h-1zM457 73h1v1h-1zM461 73h2v1h-2zM465 73h1v1h-1zM467 73h1v1h-1zM469 73h8v1h-8zM478 73h2v1h-2zM481 73h2v1h-2zM484 73h1v1h-1zM488 73h1v1h-1zM492 73h2v1h-2zM498 73h1v1h-1zM501 73h1v1h-1zM462 74h1v1h-1zM464 74h1v1h-1zM467 74h2v1h-2zM472 74h21v1h-21zM495 74h1v1h-1zM452 75h1v1h-1zM460 75h2v1h-2zM466 75h1v1h-1zM468 75h7v1h-7zM477 75h7v1h-7zM485 75h2v1h-2zM488 75h1v1h-1zM490 75h4v1h-4zM500 75h1v1h-1zM452 76h1v1h-1zM454 76h1v1h-1zM463 76h3v1h-3zM467 76h1v1h-1zM469 76h2v1h-2zM472 76h5v1h-5zM478 76h2v1h-2zM483 76h3v1h-3zM487 76h3v1h-3zM492 76h1v1h-1zM496 76h1v1h-1zM498 76h3v1h-3zM453 77h1v1h-1zM455 77h1v1h-1zM463 77h1v1h-1zM466 77h5v1h-5zM472 77h1v1h-1zM474 77h2v1h-2zM477 77h1v1h-1zM479 77h3v1h-3zM483 77h2v1h-2zM486 77h3v1h-3zM491 77h1v1h-1zM493 77h1v1h-1zM466 78h7v1h-7zM474 78h1v1h-1zM480 78h1v1h-1zM483 78h2v1h-2zM487 78h6v1h-6zM495 78h1v1h-1zM454 79h1v1h-1zM460 79h1v1h-1zM464 79h1v1h-1zM466 79h1v1h-1zM468 79h1v1h-1zM471 79h2v1h-2zM476 79h2v1h-2zM483 79h4v1h-4zM488 79h1v1h-1zM490 79h2v1h-2zM503 79h1v1h-1zM462 80h1v1h-1zM467 80h4v1h-4zM475 80h2v1h-2zM481 80h3v1h-3zM486 80h1v1h-1zM489 80h1v1h-1zM496 80h1v1h-1zM501 80h1v1h-1zM503 80h1v1h-1zM459 81h1v1h-1zM463 81h1v1h-1zM471 81h1v1h-1zM475 81h3v1h-3zM487 81h1v1h-1zM490 81h1v1h-1zM494 81h1v1h-1zM499 81h1v1h-1zM468 82h1v1h-1zM474 82h3v1h-3zM482 82h1v1h-1zM488 82h2v1h-2zM492 82h1v1h-1zM494 82h1v1h-1zM466 83h1v1h-1zM474 83h1v1h-1zM478 83h1v1h-1zM481 83h2v1h-2zM484 83h1v1h-1zM486 83h1v1h-1zM490 83h1v1h-1zM499 83h1v1h-1zM453 84h1v1h-1zM457 84h1v1h-1zM460 84h1v1h-1zM463 84h1v1h-1zM466 84h1v1h-1zM468 84h1v1h-1zM476 84h1v1h-1zM486 84h1v1h-1zM490 84h1v1h-1zM457 85h1v1h-1zM469 85h1v1h-1zM484 85h1v1h-1zM459 86h1v1h-1zM461 86h1v1h-1zM465 86h1v1h-1zM467 86h1v1h-1zM485 86h1v1h-1zM494 86h1v1h-1zM500 86h1v1h-1zM462 87h1v1h-1zM464 87h1v1h-1zM484 87h1v1h-1zM486 87h1v1h-1zM492 87h2v1h-2zM501 87h1v1h-1zM455 88h1v1h-1zM478 88h1v1h-1zM487 88h1v1h-1zM489 88h1v1h-1zM492 88h1v1h-1zM501 88h1v1h-1zM450 89h1v1h-1zM458 89h1v1h-1zM471 89h1v1h-1zM489 89h1v1h-1zM503 89h1v1h-1zM464 90h1v1h-1zM469 90h1v1h-1zM476 90h1v1h-1zM454 91h1v1h-1zM467 91h1v1h-1zM479 91h1v1h-1zM457 92h2v1h-2zM464 92h2v1h-2zM468 92h1v1h-1zM472 92h1v1h-1zM480 92h1v1h-1zM494 92h1v1h-1zM475 93h2v1h-2zM483 93h1v1h-1zM491 93h1v1h-1zM464 94h3v1h-3zM488 94h1v1h-1zM463 95h2v1h-2zM452 96h1v1h-1zM455 96h2v1h-2zM459 96h1v1h-1zM461 96h1v1h-1zM467 96h2v1h-2zM476 96h1v1h-1zM448 97h1v1h-1zM456 97h2v1h-2zM459 97h1v1h-1zM451 98h1v1h-1zM459 98h1v1h-1zM463 98h2v1h-2zM466 98h1v1h-1zM476 98h1v1h-1zM481 98h1v1h-1zM484 98h1v1h-1zM448 99h2v1h-2zM452 99h1v1h-1zM455 99h1v1h-1zM459 99h1v1h-1zM461 99h1v1h-1zM464 99h1v1h-1zM466 99h2v1h-2zM469 99h2v1h-2zM476 99h1v1h-1zM482 99h1v1h-1zM493 99h1v1h-1zM499 99h1v1h-1zM433 100h1v1h-1zM447 100h1v1h-1zM456 100h1v1h-1zM461 100h1v1h-1zM464 100h3v1h-3zM470 100h1v1h-1zM491 100h1v1h-1zM436 101h1v1h-1zM452 101h7v1h-7zM460 101h4v1h-4zM466 101h2v1h-2zM472 101h1v1h-1zM474 101h1v1h-1zM478 101h1v1h-1zM424 102h1v1h-1zM426 102h1v1h-1zM429 102h1v1h-1zM435 102h1v1h-1zM448 102h1v1h-1zM450 102h1v1h-1zM459 102h1v1h-1zM463 102h2v1h-2zM466 102h1v1h-1zM473 102h1v1h-1zM425 103h1v1h-1zM434 103h1v1h-1zM449 103h6v1h-6zM456 103h5v1h-5zM462 103h3v1h-3zM467 103h2v1h-2zM473 103h1v1h-1zM483 103h1v1h-1zM437 104h2v1h-2zM443 104h1v1h-1zM447 104h8v1h-8zM456 104h1v1h-1zM458 104h5v1h-5zM466 104h1v1h-1zM469 104h4v1h-4zM476 104h1v1h-1zM479 104h1v1h-1zM484 104h1v1h-1zM486 104h1v1h-1zM488 104h3v1h-3zM426 105h1v1h-1zM432 105h1v1h-1zM441 105h1v1h-1zM447 105h1v1h-1zM451 105h7v1h-7zM459 105h3v1h-3zM464 105h2v1h-2zM469 105h2v1h-2zM472 105h1v1h-1zM474 105h1v1h-1zM478 105h2v1h-2zM485 105h2v1h-2zM488 105h1v1h-1zM490 105h1v1h-1zM493 105h1v1h-1zM421 106h1v1h-1zM425 106h1v1h-1zM429 106h1v1h-1zM432 106h2v1h-2zM439 106h1v1h-1zM443 106h1v1h-1zM447 106h6v1h-6zM454 106h8v1h-8zM463 106h1v1h-1zM465 106h2v1h-2zM469 106h1v1h-1zM471 106h1v1h-1zM473 106h1v1h-1zM475 106h1v1h-1zM479 106h1v1h-1zM487 106h1v1h-1zM490 106h1v1h-1zM498 106h1v1h-1zM423 107h1v1h-1zM431 107h1v1h-1zM435 107h3v1h-3zM447 107h20v1h-20zM469 107h5v1h-5zM476 107h1v1h-1zM479 107h1v1h-1zM422 108h1v1h-1zM429 108h1v1h-1zM432 108h3v1h-3zM439 108h1v1h-1zM443 108h1v1h-1zM447 108h22v1h-22zM471 108h1v1h-1zM474 108h1v1h-1zM476 108h1v1h-1zM479 108h1v1h-1zM482 108h2v1h-2zM485 108h1v1h-1zM498 108h2v1h-2zM421 109h2v1h-2zM425 109h1v1h-1zM428 109h1v1h-1zM432 109h1v1h-1zM440 109h1v1h-1zM446 109h23v1h-23zM470 109h8v1h-8zM480 109h2v1h-2zM484 109h2v1h-2zM487 109h2v1h-2zM494 109h3v1h-3zM423 110h4v1h-4zM433 110h1v1h-1zM436 110h1v1h-1zM438 110h1v1h-1zM440 110h1v1h-1zM443 110h1v1h-1zM447 110h22v1h-22zM470 110h1v1h-1zM472 110h3v1h-3zM476 110h2v1h-2zM479 110h2v1h-2zM482 110h1v1h-1zM484 110h1v1h-1zM488 110h1v1h-1zM420 111h1v1h-1zM423 111h1v1h-1zM426 111h2v1h-2zM429 111h1v1h-1zM431 111h2v1h-2zM441 111h2v1h-2zM444 111h2v1h-2zM447 111h30v1h-30zM480 111h1v1h-1zM483 111h2v1h-2zM494 111h2v1h-2zM502 111h1v1h-1zM420 112h1v1h-1zM423 112h1v1h-1zM429 112h1v1h-1zM433 112h2v1h-2zM436 112h1v1h-1zM439 112h1v1h-1zM444 112h1v1h-1zM447 112h30v1h-30zM479 112h4v1h-4zM485 112h3v1h-3zM503 112h1v1h-1zM420 113h3v1h-3zM427 113h1v1h-1zM429 113h3v1h-3zM433 113h3v1h-3zM444 113h1v1h-1zM446 113h26v1h-26zM473 113h3v1h-3zM478 113h2v1h-2zM494 113h1v1h-1zM498 113h2v1h-2zM422 114h2v1h-2zM425 114h2v1h-2zM429 114h1v1h-1zM432 114h1v1h-1zM438 114h1v1h-1zM440 114h1v1h-1zM444 114h1v1h-1zM447 114h29v1h-29zM477 114h3v1h-3zM482 114h1v1h-1zM484 114h1v1h-1zM486 114h2v1h-2zM424 115h4v1h-4zM429 115h2v1h-2zM435 115h1v1h-1zM439 115h3v1h-3zM443 115h2v1h-2zM447 115h34v1h-34zM482 115h1v1h-1zM487 115h3v1h-3zM491 115h2v1h-2zM495 115h1v1h-1zM500 115h1v1h-1zM428 116h1v1h-1zM430 116h8v1h-8zM439 116h4v1h-4zM444 116h2v1h-2zM447 116h24v1h-24zM472 116h4v1h-4zM477 116h2v1h-2zM480 116h2v1h-2zM483 116h1v1h-1zM485 116h1v1h-1zM487 116h2v1h-2zM494 116h1v1h-1zM497 116h1v1h-1zM424 117h1v1h-1zM426 117h2v1h-2zM430 117h1v1h-1zM433 117h1v1h-1zM436 117h2v1h-2zM444 117h1v1h-1zM446 117h26v1h-26zM473 117h1v1h-1zM475 117h5v1h-5zM481 117h1v1h-1zM483 117h2v1h-2zM490 117h1v1h-1zM494 117h1v1h-1zM499 117h1v1h-1zM503 117h1v1h-1zM424 118h3v1h-3zM433 118h1v1h-1zM435 118h1v1h-1zM446 118h31v1h-31zM478 118h1v1h-1zM482 118h1v1h-1zM484 118h2v1h-2zM489 118h1v1h-1zM420 119h1v1h-1zM422 119h1v1h-1zM425 119h2v1h-2zM428 119h1v1h-1zM430 119h1v1h-1zM432 119h1v1h-1zM435 119h2v1h-2zM439 119h2v1h-2zM447 119h23v1h-23zM471 119h6v1h-6zM478 119h4v1h-4zM483 119h2v1h-2zM486 119h1v1h-1zM491 119h1v1h-1zM493 119h2v1h-2zM502 119h1v1h-1zM421 120h1v1h-1zM423 120h1v1h-1zM426 120h2v1h-2zM432 120h1v1h-1zM434 120h1v1h-1zM436 120h1v1h-1zM440 120h1v1h-1zM447 120h20v1h-20zM468 120h4v1h-4zM473 120h7v1h-7zM481 120h5v1h-5zM489 120h1v1h-1zM492 120h2v1h-2zM495 120h1v1h-1zM420 121h1v1h-1zM423 121h1v1h-1zM426 121h2v1h-2zM429 121h1v1h-1zM431 121h1v1h-1zM435 121h1v1h-1zM441 121h1v1h-1zM445 121h1v1h-1zM447 121h28v1h-28zM476 121h1v1h-1zM478 121h3v1h-3zM482 121h1v1h-1zM484 121h1v1h-1zM487 121h3v1h-3zM491 121h1v1h-1zM495 121h1v1h-1zM502 121h1v1h-1zM420 122h1v1h-1zM424 122h1v1h-1zM427 122h2v1h-2zM431 122h2v1h-2zM439 122h5v1h-5zM447 122h28v1h-28zM476 122h1v1h-1zM479 122h1v1h-1zM484 122h3v1h-3zM496 122h2v1h-2zM503 122h1v1h-1zM420 123h1v1h-1zM423 123h1v1h-1zM425 123h2v1h-2zM430 123h1v1h-1zM433 123h1v1h-1zM444 123h1v1h-1zM447 123h27v1h-27zM476 123h1v1h-1zM478 123h6v1h-6zM486 123h4v1h-4zM501 123h1v1h-1zM425 124h2v1h-2zM429 124h3v1h-3zM435 124h2v1h-2zM438 124h1v1h-1zM446 124h31v1h-31zM481 124h1v1h-1zM484 124h1v1h-1zM487 124h1v1h-1zM489 124h2v1h-2zM495 124h1v1h-1zM503 124h1v1h-1zM422 125h2v1h-2zM430 125h1v1h-1zM433 125h1v1h-1zM438 125h1v1h-1zM443 125h2v1h-2zM446 125h32v1h-32zM479 125h2v1h-2zM483 125h2v1h-2zM487 125h2v1h-2zM498 125h1v1h-1zM420 126h1v1h-1zM427 126h1v1h-1zM431 126h1v1h-1zM433 126h1v1h-1zM435 126h1v1h-1zM439 126h1v1h-1zM441 126h1v1h-1zM447 126h30v1h-30zM478 126h4v1h-4zM485 126h1v1h-1zM489 126h1v1h-1zM492 126h1v1h-1zM495 126h1v1h-1zM423 127h1v1h-1zM425 127h2v1h-2zM428 127h1v1h-1zM433 127h1v1h-1zM435 127h1v1h-1zM442 127h2v1h-2zM447 127h23v1h-23zM471 127h4v1h-4zM476 127h4v1h-4zM481 127h2v1h-2zM485 127h1v1h-1zM487 127h1v1h-1zM495 127h1v1h-1zM503 127h1v1h-1z" fill="#cbcbcb"/>
<rect x="418.15" y="37.5" width="87.45" height="92.10" fill="none" stroke="#111" stroke-width="1.5"/>
<path d="M445.9 37.5V129.6M418.15 98.5H505.6" stroke="#111" stroke-width="1.5" fill="none"/>
<path d="M418.15 129.6v4.2M440.01 129.6v4.2M461.88 129.6v4.2M483.74 129.6v4.2M505.60 129.6v4.2M424.73 129.6v2.6M428.58 129.6v2.6M431.31 129.6v2.6M433.43 129.6v2.6M435.16 129.6v2.6M436.63 129.6v2.6M437.89 129.6v2.6M439.01 129.6v2.6M446.59 129.6v2.6M450.44 129.6v2.6M453.18 129.6v2.6M455.29 129.6v2.6M457.02 129.6v2.6M458.49 129.6v2.6M459.76 129.6v2.6M460.87 129.6v2.6M468.46 129.6v2.6M472.31 129.6v2.6M475.04 129.6v2.6M477.16 129.6v2.6M478.89 129.6v2.6M480.35 129.6v2.6M481.62 129.6v2.6M482.74 129.6v2.6M490.32 129.6v2.6M494.17 129.6v2.6M496.90 129.6v2.6M499.02 129.6v2.6M500.75 129.6v2.6M502.21 129.6v2.6M503.48 129.6v2.6M504.60 129.6v2.6M418.15 129.60h-4.2M418.15 106.57h-4.2M418.15 83.55h-4.2M418.15 60.53h-4.2M418.15 37.50h-4.2M418.15 122.67h-2.6M418.15 118.61h-2.6M418.15 115.74h-2.6M418.15 113.51h-2.6M418.15 111.68h-2.6M418.15 110.14h-2.6M418.15 108.81h-2.6M418.15 107.63h-2.6M418.15 99.64h-2.6M418.15 95.59h-2.6M418.15 92.71h-2.6M418.15 90.48h-2.6M418.15 88.66h-2.6M418.15 87.12h-2.6M418.15 85.78h-2.6M418.15 84.60h-2.6M418.15 76.62h-2.6M418.15 72.56h-2.6M418.15 69.69h-2.6M418.15 67.46h-2.6M418.15 65.63h-2.6M418.15 64.09h-2.6M418.15 62.76h-2.6M418.15 61.58h-2.6M418.15 53.59h-2.6M418.15 49.54h-2.6M418.15 46.66h-2.6M418.15 44.43h-2.6M418.15 42.61h-2.6M418.15 41.07h-2.6M418.15 39.73h-2.6M418.15 38.55h-2.6" stroke="#111" stroke-width="1.3" fill="none"/>
<text transform="translate(412.78,142.90) scale(0.77,1)" font-size="9.3" text-anchor="start" fill="#111"  stroke="#111" stroke-width="0.5">10</text>
<text transform="translate(420.94,137.80) scale(0.77,1)" font-size="9.0" text-anchor="start" fill="#111"  stroke="#111" stroke-width="0.5">0</text>
<text transform="translate(434.44,142.90) scale(0.77,1)" font-size="9.3" text-anchor="start" fill="#111"  stroke="#111" stroke-width="0.5">10</text>
<text transform="translate(442.60,137.80) scale(0.77,1)" font-size="9.0" text-anchor="start" fill="#111"  stroke="#111" stroke-width="0.5">1</text>
<text transform="translate(456.10,142.90) scale(0.77,1)" font-size="9.3" text-anchor="start" fill="#111"  stroke="#111" stroke-width="0.5">10</text>
<text transform="translate(464.27,137.80) scale(0.77,1)" font-size="9.0" text-anchor="start" fill="#111"  stroke="#111" stroke-width="0.5">2</text>
<text transform="translate(477.77,142.90) scale(0.77,1)" font-size="9.3" text-anchor="start" fill="#111"  stroke="#111" stroke-width="0.5">10</text>
<text transform="translate(485.93,137.80) scale(0.77,1)" font-size="9.0" text-anchor="start" fill="#111"  stroke="#111" stroke-width="0.5">3</text>
<text transform="translate(499.43,142.90) scale(0.77,1)" font-size="9.3" text-anchor="start" fill="#111"  stroke="#111" stroke-width="0.5">10</text>
<text transform="translate(507.59,137.80) scale(0.77,1)" font-size="9.0" text-anchor="start" fill="#111"  stroke="#111" stroke-width="0.5">4</text>
<text transform="translate(411.85,135.40) rotate(-90) scale(0.77,1)" font-size="8.8" text-anchor="start" fill="#111"  stroke="#111" stroke-width="0.5">10</text>
<text transform="translate(407.55,126.57) rotate(-90) scale(0.77,1)" font-size="8.8" text-anchor="start" fill="#111"  stroke="#111" stroke-width="0.5">0</text>
<text transform="translate(411.85,112.38) rotate(-90) scale(0.77,1)" font-size="8.8" text-anchor="start" fill="#111"  stroke="#111" stroke-width="0.5">10</text>
<text transform="translate(407.55,103.54) rotate(-90) scale(0.77,1)" font-size="8.8" text-anchor="start" fill="#111"  stroke="#111" stroke-width="0.5">1</text>
<text transform="translate(411.85,89.35) rotate(-90) scale(0.77,1)" font-size="8.8" text-anchor="start" fill="#111"  stroke="#111" stroke-width="0.5">10</text>
<text transform="translate(407.55,80.52) rotate(-90) scale(0.77,1)" font-size="8.8" text-anchor="start" fill="#111"  stroke="#111" stroke-width="0.5">2</text>
<text transform="translate(411.85,66.33) rotate(-90) scale(0.77,1)" font-size="8.8" text-anchor="start" fill="#111"  stroke="#111" stroke-width="0.5">10</text>
<text transform="translate(407.55,57.49) rotate(-90) scale(0.77,1)" font-size="8.8" text-anchor="start" fill="#111"  stroke="#111" stroke-width="0.5">3</text>
<text transform="translate(411.85,43.30) rotate(-90) scale(0.77,1)" font-size="8.8" text-anchor="start" fill="#111"  stroke="#111" stroke-width="0.5">10</text>
<text transform="translate(407.55,34.47) rotate(-90) scale(0.77,1)" font-size="8.8" text-anchor="start" fill="#111"  stroke="#111" stroke-width="0.5">4</text>
<text transform="translate(401.35,84.55) rotate(-90) scale(0.97,1)" font-size="7.5" text-anchor="middle" fill="#111"  stroke="#111" stroke-width="0.4">FL4-H</text>
<text transform="translate(461.40,150.00) scale(0.86,1)" font-size="8.2" text-anchor="middle" fill="#111"  stroke="#111" stroke-width="0.4">FL1-H</text>
<text transform="translate(420.80,47.80) scale(0.96,1)" font-size="10.0" text-anchor="start" fill="#111"  stroke="#111" stroke-width="0.25">0,06</text>
<text transform="translate(498.00,47.80) scale(0.96,1)" font-size="10.0" text-anchor="end" fill="#111"  stroke="#111" stroke-width="0.25">19</text>
<text transform="translate(497.90,124.90) scale(0.96,1)" font-size="10.0" text-anchor="end" fill="#111"  stroke="#111" stroke-width="0.25">71,3</text>
<path d="M330 190h1v1h-1zM314 192h1v1h-1zM328 193h1v1h-1zM331 194h1v1h-1zM325 195h1v1h-1zM306 196h1v1h-1zM345 196h1v1h-1zM293 197h1v1h-1zM307 197h1v1h-1zM320 197h1v1h-1zM323 197h1v1h-1zM332 197h1v1h-1zM319 198h1v1h-1zM321 198h2v1h-2zM331 198h1v1h-1zM345 198h1v1h-1zM305 199h1v1h-1zM308 199h1v1h-1zM310 199h2v1h-2zM316 199h1v1h-1zM318 199h1v1h-1zM329 199h1v1h-1zM346 199h1v1h-1zM352 199h1v1h-1zM307 200h1v1h-1zM311 200h1v1h-1zM318 200h1v1h-1zM322 200h1v1h-1zM302 201h1v1h-1zM306 201h1v1h-1zM311 201h2v1h-2zM320 201h1v1h-1zM327 201h3v1h-3zM334 201h1v1h-1zM341 201h1v1h-1zM297 202h1v1h-1zM318 202h2v1h-2zM322 202h1v1h-1zM324 202h1v1h-1zM329 202h2v1h-2zM333 202h1v1h-1zM342 202h1v1h-1zM353 202h1v1h-1zM281 203h1v1h-1zM299 203h1v1h-1zM304 203h1v1h-1zM311 203h1v1h-1zM313 203h1v1h-1zM317 203h2v1h-2zM320 203h2v1h-2zM324 203h1v1h-1zM327 203h1v1h-1zM330 203h1v1h-1zM332 203h1v1h-1zM339 203h1v1h-1zM345 203h1v1h-1zM312 204h1v1h-1zM314 204h1v1h-1zM316 204h3v1h-3zM320 204h1v1h-1zM322 204h1v1h-1zM325 204h1v1h-1zM329 204h1v1h-1zM299 205h1v1h-1zM302 205h1v1h-1zM304 205h1v1h-1zM307 205h1v1h-1zM311 205h1v1h-1zM315 205h7v1h-7zM325 205h1v1h-1zM328 205h1v1h-1zM331 205h1v1h-1zM334 205h1v1h-1zM336 205h1v1h-1zM301 206h1v1h-1zM303 206h2v1h-2zM307 206h1v1h-1zM310 206h2v1h-2zM313 206h1v1h-1zM316 206h2v1h-2zM319 206h1v1h-1zM323 206h1v1h-1zM326 206h2v1h-2zM339 206h1v1h-1zM346 206h1v1h-1zM352 206h1v1h-1zM299 207h1v1h-1zM301 207h1v1h-1zM303 207h2v1h-2zM308 207h3v1h-3zM312 207h1v1h-1zM316 207h3v1h-3zM325 207h4v1h-4zM331 207h1v1h-1zM334 207h1v1h-1zM336 207h1v1h-1zM342 207h1v1h-1zM354 207h1v1h-1zM288 208h1v1h-1zM295 208h1v1h-1zM297 208h1v1h-1zM302 208h1v1h-1zM306 208h1v1h-1zM315 208h2v1h-2zM318 208h1v1h-1zM322 208h2v1h-2zM326 208h1v1h-1zM331 208h2v1h-2zM334 208h1v1h-1zM338 208h1v1h-1zM340 208h1v1h-1zM355 208h1v1h-1zM301 209h1v1h-1zM305 209h1v1h-1zM312 209h1v1h-1zM314 209h1v1h-1zM316 209h4v1h-4zM321 209h2v1h-2zM325 209h1v1h-1zM327 209h1v1h-1zM330 209h1v1h-1zM336 209h2v1h-2zM281 210h1v1h-1zM291 210h1v1h-1zM298 210h1v1h-1zM300 210h2v1h-2zM303 210h1v1h-1zM308 210h1v1h-1zM310 210h2v1h-2zM314 210h1v1h-1zM316 210h1v1h-1zM318 210h1v1h-1zM322 210h1v1h-1zM325 210h1v1h-1zM328 210h4v1h-4zM334 210h1v1h-1zM337 210h1v1h-1zM339 210h1v1h-1zM341 210h1v1h-1zM281 211h1v1h-1zM286 211h2v1h-2zM300 211h1v1h-1zM302 211h1v1h-1zM307 211h1v1h-1zM310 211h2v1h-2zM313 211h6v1h-6zM323 211h1v1h-1zM325 211h1v1h-1zM329 211h2v1h-2zM333 211h1v1h-1zM337 211h1v1h-1zM341 211h1v1h-1zM345 211h1v1h-1zM296 212h1v1h-1zM301 212h4v1h-4zM308 212h1v1h-1zM311 212h1v1h-1zM316 212h2v1h-2zM320 212h3v1h-3zM324 212h2v1h-2zM327 212h1v1h-1zM331 212h2v1h-2zM334 212h1v1h-1zM337 212h2v1h-2zM343 212h1v1h-1zM349 212h1v1h-1zM357 212h1v1h-1zM291 213h1v1h-1zM299 213h1v1h-1zM302 213h1v1h-1zM306 213h1v1h-1zM310 213h1v1h-1zM312 213h2v1h-2zM316 213h1v1h-1zM318 213h2v1h-2zM321 213h2v1h-2zM324 213h1v1h-1zM328 213h2v1h-2zM332 213h1v1h-1zM335 213h4v1h-4zM343 213h1v1h-1zM347 213h1v1h-1zM289 214h1v1h-1zM294 214h1v1h-1zM300 214h1v1h-1zM303 214h1v1h-1zM308 214h2v1h-2zM312 214h1v1h-1zM315 214h4v1h-4zM320 214h1v1h-1zM324 214h2v1h-2zM329 214h3v1h-3zM334 214h1v1h-1zM340 214h1v1h-1zM342 214h1v1h-1zM356 214h1v1h-1zM361 214h1v1h-1zM287 215h3v1h-3zM296 215h1v1h-1zM302 215h2v1h-2zM305 215h1v1h-1zM307 215h1v1h-1zM311 215h2v1h-2zM315 215h6v1h-6zM325 215h3v1h-3zM329 215h1v1h-1zM341 215h1v1h-1zM302 216h3v1h-3zM307 216h1v1h-1zM317 216h1v1h-1zM321 216h1v1h-1zM326 216h2v1h-2zM332 216h2v1h-2zM335 216h1v1h-1zM341 216h3v1h-3zM345 216h1v1h-1zM307 217h2v1h-2zM310 217h1v1h-1zM315 217h1v1h-1zM317 217h2v1h-2zM323 217h1v1h-1zM325 217h1v1h-1zM329 217h2v1h-2zM332 217h5v1h-5zM343 217h1v1h-1zM346 217h1v1h-1zM352 217h1v1h-1zM298 218h1v1h-1zM302 218h1v1h-1zM306 218h1v1h-1zM309 218h3v1h-3zM317 218h3v1h-3zM321 218h1v1h-1zM332 218h2v1h-2zM339 218h1v1h-1zM342 218h1v1h-1zM353 218h1v1h-1zM293 219h1v1h-1zM298 219h1v1h-1zM300 219h1v1h-1zM302 219h1v1h-1zM306 219h1v1h-1zM309 219h1v1h-1zM312 219h2v1h-2zM316 219h1v1h-1zM318 219h3v1h-3zM322 219h1v1h-1zM324 219h1v1h-1zM326 219h1v1h-1zM329 219h1v1h-1zM331 219h1v1h-1zM334 219h3v1h-3zM339 219h1v1h-1zM345 219h2v1h-2zM282 220h1v1h-1zM287 220h1v1h-1zM306 220h1v1h-1zM308 220h1v1h-1zM314 220h1v1h-1zM317 220h1v1h-1zM319 220h5v1h-5zM328 220h2v1h-2zM332 220h1v1h-1zM336 220h1v1h-1zM350 220h1v1h-1zM299 221h1v1h-1zM308 221h2v1h-2zM312 221h1v1h-1zM315 221h1v1h-1zM317 221h1v1h-1zM322 221h1v1h-1zM332 221h3v1h-3zM336 221h1v1h-1zM287 222h1v1h-1zM295 222h1v1h-1zM298 222h2v1h-2zM304 222h3v1h-3zM311 222h2v1h-2zM321 222h1v1h-1zM323 222h1v1h-1zM325 222h1v1h-1zM330 222h2v1h-2zM334 222h1v1h-1zM337 222h1v1h-1zM291 223h1v1h-1zM307 223h1v1h-1zM310 223h1v1h-1zM314 223h1v1h-1zM316 223h2v1h-2zM320 223h1v1h-1zM325 223h5v1h-5zM332 223h2v1h-2zM287 224h1v1h-1zM294 224h1v1h-1zM296 224h2v1h-2zM301 224h1v1h-1zM303 224h2v1h-2zM306 224h1v1h-1zM309 224h1v1h-1zM312 224h2v1h-2zM315 224h1v1h-1zM321 224h1v1h-1zM329 224h2v1h-2zM336 224h1v1h-1zM346 224h1v1h-1zM299 225h2v1h-2zM306 225h1v1h-1zM310 225h1v1h-1zM312 225h5v1h-5zM318 225h3v1h-3zM324 225h1v1h-1zM326 225h1v1h-1zM334 225h3v1h-3zM338 225h1v1h-1zM345 225h1v1h-1zM283 226h1v1h-1zM290 226h1v1h-1zM292 226h1v1h-1zM297 226h1v1h-1zM302 226h3v1h-3zM306 226h6v1h-6zM313 226h1v1h-1zM315 226h1v1h-1zM318 226h2v1h-2zM322 226h3v1h-3zM284 227h3v1h-3zM290 227h1v1h-1zM292 227h1v1h-1zM294 227h1v1h-1zM298 227h1v1h-1zM301 227h1v1h-1zM303 227h2v1h-2zM307 227h1v1h-1zM309 227h3v1h-3zM313 227h2v1h-2zM316 227h1v1h-1zM319 227h2v1h-2zM322 227h1v1h-1zM325 227h1v1h-1zM332 227h1v1h-1zM336 227h1v1h-1zM338 227h1v1h-1zM341 227h1v1h-1zM288 228h1v1h-1zM293 228h3v1h-3zM299 228h4v1h-4zM304 228h6v1h-6zM311 228h1v1h-1zM313 228h2v1h-2zM317 228h1v1h-1zM319 228h3v1h-3zM324 228h1v1h-1zM327 228h1v1h-1zM332 228h1v1h-1zM334 228h1v1h-1zM336 228h1v1h-1zM350 228h1v1h-1zM352 228h1v1h-1zM278 229h1v1h-1zM283 229h1v1h-1zM285 229h1v1h-1zM289 229h5v1h-5zM295 229h2v1h-2zM298 229h14v1h-14zM313 229h4v1h-4zM318 229h2v1h-2zM322 229h1v1h-1zM325 229h1v1h-1zM328 229h1v1h-1zM336 229h1v1h-1zM349 229h1v1h-1zM287 230h1v1h-1zM289 230h5v1h-5zM295 230h2v1h-2zM298 230h7v1h-7zM307 230h15v1h-15zM323 230h6v1h-6zM331 230h1v1h-1zM337 230h2v1h-2zM275 231h1v1h-1zM282 231h2v1h-2zM287 231h1v1h-1zM289 231h5v1h-5zM295 231h10v1h-10zM306 231h10v1h-10zM317 231h5v1h-5zM323 231h3v1h-3zM327 231h1v1h-1zM334 231h1v1h-1zM340 231h1v1h-1zM272 232h1v1h-1zM276 232h1v1h-1zM280 232h1v1h-1zM284 232h1v1h-1zM286 232h11v1h-11zM298 232h11v1h-11zM310 232h13v1h-13zM324 232h1v1h-1zM327 232h3v1h-3zM333 232h2v1h-2zM339 232h1v1h-1zM281 233h1v1h-1zM284 233h1v1h-1zM286 233h1v1h-1zM288 233h2v1h-2zM292 233h30v1h-30zM324 233h3v1h-3zM328 233h1v1h-1zM334 233h1v1h-1zM338 233h2v1h-2zM348 233h1v1h-1zM359 233h1v1h-1zM272 234h1v1h-1zM276 234h1v1h-1zM278 234h6v1h-6zM285 234h3v1h-3zM289 234h35v1h-35zM325 234h3v1h-3zM329 234h3v1h-3zM333 234h2v1h-2zM337 234h1v1h-1zM349 234h1v1h-1zM275 235h1v1h-1zM277 235h2v1h-2zM286 235h41v1h-41zM329 235h2v1h-2zM332 235h1v1h-1zM334 235h1v1h-1zM336 235h3v1h-3zM340 235h1v1h-1zM345 235h1v1h-1zM349 235h1v1h-1zM274 236h3v1h-3zM282 236h6v1h-6zM289 236h41v1h-41zM331 236h1v1h-1zM333 236h1v1h-1zM335 236h1v1h-1zM338 236h1v1h-1zM344 236h1v1h-1zM355 236h1v1h-1zM270 237h1v1h-1zM278 237h1v1h-1zM280 237h1v1h-1zM282 237h2v1h-2zM285 237h37v1h-37zM323 237h14v1h-14zM338 237h2v1h-2zM343 237h2v1h-2zM351 237h2v1h-2zM275 238h3v1h-3zM282 238h47v1h-47zM330 238h1v1h-1zM332 238h4v1h-4zM337 238h1v1h-1zM341 238h3v1h-3zM345 238h1v1h-1zM349 238h1v1h-1zM273 239h3v1h-3zM278 239h1v1h-1zM280 239h41v1h-41zM322 239h10v1h-10zM337 239h1v1h-1zM340 239h4v1h-4zM345 239h2v1h-2zM348 239h1v1h-1zM274 240h1v1h-1zM277 240h1v1h-1zM282 240h56v1h-56zM340 240h1v1h-1zM346 240h1v1h-1zM351 240h1v1h-1zM271 241h2v1h-2zM275 241h1v1h-1zM277 241h1v1h-1zM280 241h1v1h-1zM283 241h52v1h-52zM336 241h2v1h-2zM339 241h3v1h-3zM343 241h1v1h-1zM351 241h1v1h-1zM356 241h1v1h-1zM276 242h1v1h-1zM280 242h58v1h-58zM339 242h1v1h-1zM344 242h1v1h-1zM347 242h2v1h-2zM353 242h2v1h-2zM361 242h1v1h-1zM274 243h1v1h-1zM277 243h1v1h-1zM279 243h1v1h-1zM281 243h45v1h-45zM327 243h14v1h-14zM342 243h2v1h-2zM345 243h3v1h-3zM361 243h1v1h-1zM270 244h3v1h-3zM276 244h7v1h-7zM284 244h54v1h-54zM339 244h2v1h-2zM343 244h1v1h-1zM345 244h2v1h-2zM349 244h2v1h-2zM271 245h1v1h-1zM274 245h2v1h-2zM277 245h4v1h-4zM282 245h57v1h-57zM340 245h1v1h-1zM342 245h1v1h-1zM345 245h1v1h-1zM351 245h1v1h-1zM354 245h1v1h-1zM357 245h1v1h-1zM361 245h1v1h-1zM274 246h63v1h-63zM338 246h3v1h-3zM342 246h2v1h-2zM345 246h6v1h-6zM356 246h1v1h-1zM360 246h2v1h-2zM270 247h1v1h-1zM273 247h3v1h-3zM278 247h1v1h-1zM280 247h54v1h-54zM335 247h7v1h-7zM344 247h3v1h-3zM348 247h1v1h-1zM351 247h1v1h-1zM359 247h1v1h-1zM277 248h60v1h-60zM338 248h2v1h-2zM341 248h1v1h-1zM344 248h1v1h-1zM346 248h4v1h-4zM356 248h1v1h-1zM270 249h1v1h-1zM273 249h1v1h-1zM276 249h1v1h-1zM278 249h1v1h-1zM282 249h50v1h-50zM333 249h5v1h-5zM340 249h1v1h-1zM345 249h1v1h-1zM350 249h1v1h-1zM357 249h1v1h-1zM359 249h1v1h-1zM361 249h1v1h-1zM270 250h1v1h-1zM273 250h1v1h-1zM276 250h1v1h-1zM279 250h54v1h-54zM334 250h7v1h-7zM342 250h2v1h-2zM346 250h1v1h-1zM348 250h2v1h-2zM352 250h1v1h-1zM354 250h1v1h-1zM274 251h1v1h-1zM278 251h2v1h-2zM281 251h4v1h-4zM286 251h54v1h-54zM341 251h4v1h-4zM346 251h1v1h-1zM350 251h1v1h-1zM352 251h1v1h-1zM273 252h2v1h-2zM276 252h4v1h-4zM281 252h49v1h-49zM331 252h3v1h-3zM336 252h6v1h-6zM345 252h2v1h-2zM352 252h1v1h-1zM354 252h2v1h-2zM359 252h1v1h-1zM270 253h1v1h-1zM273 253h1v1h-1zM276 253h2v1h-2zM279 253h49v1h-49zM329 253h2v1h-2zM332 253h3v1h-3zM337 253h1v1h-1zM341 253h1v1h-1zM344 253h1v1h-1zM349 253h1v1h-1zM352 253h1v1h-1zM360 253h1v1h-1zM271 254h1v1h-1zM276 254h1v1h-1zM278 254h59v1h-59zM338 254h1v1h-1zM340 254h1v1h-1zM342 254h2v1h-2zM346 254h2v1h-2zM349 254h1v1h-1zM351 254h2v1h-2zM358 254h2v1h-2z" fill="#cbcbcb"/>
<rect x="268.8" y="165.45" width="94.50" height="91.45" fill="none" stroke="#111" stroke-width="1.5"/>
<path d="M299.5 165.45V256.9M268.8 225.85H363.3" stroke="#111" stroke-width="1.5" fill="none"/>
<path d="M268.80 256.9v4.2M292.43 256.9v4.2M316.05 256.9v4.2M339.68 256.9v4.2M363.30 256.9v4.2M275.91 256.9v2.6M280.07 256.9v2.6M283.02 256.9v2.6M285.31 256.9v2.6M287.18 256.9v2.6M288.77 256.9v2.6M290.14 256.9v2.6M291.34 256.9v2.6M299.54 256.9v2.6M303.70 256.9v2.6M306.65 256.9v2.6M308.94 256.9v2.6M310.81 256.9v2.6M312.39 256.9v2.6M313.76 256.9v2.6M314.97 256.9v2.6M323.16 256.9v2.6M327.32 256.9v2.6M330.27 256.9v2.6M332.56 256.9v2.6M334.43 256.9v2.6M336.02 256.9v2.6M337.39 256.9v2.6M338.59 256.9v2.6M346.79 256.9v2.6M350.95 256.9v2.6M353.90 256.9v2.6M356.19 256.9v2.6M358.06 256.9v2.6M359.64 256.9v2.6M361.01 256.9v2.6M362.22 256.9v2.6M268.8 256.90h-4.2M268.8 234.04h-4.2M268.8 211.17h-4.2M268.8 188.31h-4.2M268.8 165.45h-4.2M268.8 250.02h-2.6M268.8 245.99h-2.6M268.8 243.14h-2.6M268.8 240.92h-2.6M268.8 239.11h-2.6M268.8 237.58h-2.6M268.8 236.25h-2.6M268.8 235.08h-2.6M268.8 227.16h-2.6M268.8 223.13h-2.6M268.8 220.27h-2.6M268.8 218.06h-2.6M268.8 216.25h-2.6M268.8 214.72h-2.6M268.8 213.39h-2.6M268.8 212.22h-2.6M268.8 204.29h-2.6M268.8 200.27h-2.6M268.8 197.41h-2.6M268.8 195.19h-2.6M268.8 193.38h-2.6M268.8 191.85h-2.6M268.8 190.53h-2.6M268.8 189.36h-2.6M268.8 181.43h-2.6M268.8 177.40h-2.6M268.8 174.55h-2.6M268.8 172.33h-2.6M268.8 170.52h-2.6M268.8 168.99h-2.6M268.8 167.67h-2.6M268.8 166.50h-2.6" stroke="#111" stroke-width="1.3" fill="none"/>
<text transform="translate(263.43,271.20) scale(0.77,1)" font-size="9.3" text-anchor="start" fill="#111"  stroke="#111" stroke-width="0.5">10</text>
<text transform="translate(271.59,266.10) scale(0.77,1)" font-size="9.0" text-anchor="start" fill="#111"  stroke="#111" stroke-width="0.5">0</text>
<text transform="translate(286.85,271.20) scale(0.77,1)" font-size="9.3" text-anchor="start" fill="#111"  stroke="#111" stroke-width="0.5">10</text>
<text transform="translate(295.02,266.10) scale(0.77,1)" font-size="9.0" text-anchor="start" fill="#111"  stroke="#111" stroke-width="0.5">1</text>
<text transform="translate(310.28,271.20) scale(0.77,1)" font-size="9.3" text-anchor="start" fill="#111"  stroke="#111" stroke-width="0.5">10</text>
<text transform="translate(318.44,266.10) scale(0.77,1)" font-size="9.0" text-anchor="start" fill="#111"  stroke="#111" stroke-width="0.5">2</text>
<text transform="translate(333.70,271.20) scale(0.77,1)" font-size="9.3" text-anchor="start" fill="#111"  stroke="#111" stroke-width="0.5">10</text>
<text transform="translate(341.87,266.10) scale(0.77,1)" font-size="9.0" text-anchor="start" fill="#111"  stroke="#111" stroke-width="0.5">3</text>
<text transform="translate(357.13,271.20) scale(0.77,1)" font-size="9.3" text-anchor="start" fill="#111"  stroke="#111" stroke-width="0.5">10</text>
<text transform="translate(365.29,266.10) scale(0.77,1)" font-size="9.0" text-anchor="start" fill="#111"  stroke="#111" stroke-width="0.5">4</text>
<text transform="translate(262.50,262.70) rotate(-90) scale(0.77,1)" font-size="8.8" text-anchor="start" fill="#111"  stroke="#111" stroke-width="0.5">10</text>
<text transform="translate(258.20,253.87) rotate(-90) scale(0.77,1)" font-size="8.8" text-anchor="start" fill="#111"  stroke="#111" stroke-width="0.5">0</text>
<text transform="translate(262.50,239.84) rotate(-90) scale(0.77,1)" font-size="8.8" text-anchor="start" fill="#111"  stroke="#111" stroke-width="0.5">10</text>
<text transform="translate(258.20,231.00) rotate(-90) scale(0.77,1)" font-size="8.8" text-anchor="start" fill="#111"  stroke="#111" stroke-width="0.5">1</text>
<text transform="translate(262.50,216.98) rotate(-90) scale(0.77,1)" font-size="8.8" text-anchor="start" fill="#111"  stroke="#111" stroke-width="0.5">10</text>
<text transform="translate(258.20,208.14) rotate(-90) scale(0.77,1)" font-size="8.8" text-anchor="start" fill="#111"  stroke="#111" stroke-width="0.5">2</text>
<text transform="translate(262.50,194.11) rotate(-90) scale(0.77,1)" font-size="8.8" text-anchor="start" fill="#111"  stroke="#111" stroke-width="0.5">10</text>
<text transform="translate(258.20,185.28) rotate(-90) scale(0.77,1)" font-size="8.8" text-anchor="start" fill="#111"  stroke="#111" stroke-width="0.5">3</text>
<text transform="translate(262.50,171.25) rotate(-90) scale(0.77,1)" font-size="8.8" text-anchor="start" fill="#111"  stroke="#111" stroke-width="0.5">10</text>
<text transform="translate(258.20,162.42) rotate(-90) scale(0.77,1)" font-size="8.8" text-anchor="start" fill="#111"  stroke="#111" stroke-width="0.5">4</text>
<text transform="translate(252.00,212.17) rotate(-90) scale(0.97,1)" font-size="7.5" text-anchor="middle" fill="#111"  stroke="#111" stroke-width="0.4">FL4-H</text>
<text transform="translate(314.10,279.60) scale(0.86,1)" font-size="8.2" text-anchor="middle" fill="#111"  stroke="#111" stroke-width="0.4">FL1-H</text>
<text transform="translate(273.10,178.60) scale(0.96,1)" font-size="10.0" text-anchor="start" fill="#111"  stroke="#111" stroke-width="0.25">0,43</text>
<text transform="translate(357.70,178.60) scale(0.96,1)" font-size="10.0" text-anchor="end" fill="#111"  stroke="#111" stroke-width="0.25">4</text>
<text transform="translate(357.90,251.20) scale(0.96,1)" font-size="10.0" text-anchor="end" fill="#111"  stroke="#111" stroke-width="0.25">79,3</text>
<path d="M449 169h2v1h-2zM457 169h1v1h-1zM465 169h2v1h-2zM492 169h1v1h-1zM439 170h1v1h-1zM451 170h1v1h-1zM460 170h2v1h-2zM465 170h1v1h-1zM470 170h2v1h-2zM489 170h1v1h-1zM443 171h1v1h-1zM452 171h3v1h-3zM460 171h2v1h-2zM463 171h1v1h-1zM466 171h1v1h-1zM469 171h1v1h-1zM471 171h1v1h-1zM476 171h1v1h-1zM482 171h1v1h-1zM495 171h1v1h-1zM441 172h1v1h-1zM447 172h1v1h-1zM455 172h6v1h-6zM464 172h1v1h-1zM467 172h1v1h-1zM477 172h1v1h-1zM479 172h1v1h-1zM486 172h1v1h-1zM488 172h1v1h-1zM450 173h1v1h-1zM455 173h3v1h-3zM466 173h2v1h-2zM469 173h2v1h-2zM480 173h1v1h-1zM483 173h1v1h-1zM436 174h1v1h-1zM449 174h2v1h-2zM453 174h3v1h-3zM458 174h3v1h-3zM462 174h2v1h-2zM465 174h1v1h-1zM467 174h2v1h-2zM470 174h1v1h-1zM447 175h16v1h-16zM464 175h3v1h-3zM470 175h3v1h-3zM475 175h1v1h-1zM489 175h1v1h-1zM440 176h1v1h-1zM442 176h2v1h-2zM447 176h2v1h-2zM450 176h1v1h-1zM454 176h3v1h-3zM459 176h10v1h-10zM472 176h1v1h-1zM476 176h2v1h-2zM481 176h1v1h-1zM441 177h1v1h-1zM444 177h2v1h-2zM448 177h3v1h-3zM453 177h5v1h-5zM459 177h2v1h-2zM462 177h2v1h-2zM465 177h4v1h-4zM470 177h1v1h-1zM475 177h2v1h-2zM478 177h1v1h-1zM481 177h1v1h-1zM444 178h3v1h-3zM450 178h6v1h-6zM457 178h2v1h-2zM460 178h5v1h-5zM466 178h2v1h-2zM469 178h6v1h-6zM479 178h1v1h-1zM489 178h1v1h-1zM432 179h1v1h-1zM436 179h1v1h-1zM438 179h1v1h-1zM442 179h1v1h-1zM447 179h1v1h-1zM452 179h4v1h-4zM457 179h4v1h-4zM462 179h12v1h-12zM475 179h1v1h-1zM478 179h1v1h-1zM480 179h1v1h-1zM490 179h1v1h-1zM494 179h1v1h-1zM442 180h3v1h-3zM446 180h10v1h-10zM457 180h11v1h-11zM469 180h5v1h-5zM475 180h1v1h-1zM477 180h2v1h-2zM482 180h1v1h-1zM487 180h2v1h-2zM449 181h15v1h-15zM465 181h11v1h-11zM477 181h2v1h-2zM480 181h1v1h-1zM484 181h1v1h-1zM447 182h1v1h-1zM449 182h20v1h-20zM470 182h1v1h-1zM472 182h4v1h-4zM477 182h1v1h-1zM479 182h1v1h-1zM481 182h1v1h-1zM488 182h1v1h-1zM492 182h1v1h-1zM427 183h1v1h-1zM442 183h3v1h-3zM447 183h1v1h-1zM449 183h26v1h-26zM476 183h1v1h-1zM479 183h1v1h-1zM481 183h1v1h-1zM483 183h1v1h-1zM438 184h1v1h-1zM441 184h1v1h-1zM443 184h32v1h-32zM476 184h2v1h-2zM440 185h1v1h-1zM445 185h26v1h-26zM473 185h5v1h-5zM479 185h1v1h-1zM484 185h4v1h-4zM434 186h1v1h-1zM439 186h4v1h-4zM444 186h2v1h-2zM447 186h30v1h-30zM479 186h1v1h-1zM482 186h1v1h-1zM485 186h1v1h-1zM493 186h1v1h-1zM429 187h1v1h-1zM441 187h3v1h-3zM445 187h32v1h-32zM479 187h3v1h-3zM490 187h1v1h-1zM428 188h1v1h-1zM437 188h2v1h-2zM440 188h33v1h-33zM474 188h3v1h-3zM479 188h1v1h-1zM481 188h1v1h-1zM488 188h1v1h-1zM424 189h1v1h-1zM430 189h1v1h-1zM438 189h1v1h-1zM440 189h3v1h-3zM444 189h1v1h-1zM447 189h34v1h-34zM485 189h1v1h-1zM499 189h1v1h-1zM434 190h2v1h-2zM438 190h1v1h-1zM440 190h38v1h-38zM479 190h1v1h-1zM481 190h1v1h-1zM485 190h2v1h-2zM488 190h2v1h-2zM433 191h1v1h-1zM436 191h2v1h-2zM440 191h1v1h-1zM442 191h4v1h-4zM447 191h26v1h-26zM474 191h4v1h-4zM479 191h2v1h-2zM487 191h1v1h-1zM432 192h3v1h-3zM436 192h1v1h-1zM441 192h2v1h-2zM444 192h33v1h-33zM478 192h1v1h-1zM480 192h3v1h-3zM484 192h2v1h-2zM487 192h1v1h-1zM499 192h1v1h-1zM435 193h1v1h-1zM437 193h1v1h-1zM440 193h1v1h-1zM442 193h38v1h-38zM485 193h1v1h-1zM488 193h1v1h-1zM504 193h1v1h-1zM437 194h2v1h-2zM441 194h1v1h-1zM443 194h35v1h-35zM479 194h1v1h-1zM481 194h2v1h-2zM485 194h2v1h-2zM488 194h1v1h-1zM495 194h1v1h-1zM436 195h1v1h-1zM438 195h2v1h-2zM441 195h43v1h-43zM488 195h1v1h-1zM494 195h1v1h-1zM423 196h1v1h-1zM434 196h1v1h-1zM438 196h5v1h-5zM444 196h41v1h-41zM486 196h1v1h-1zM422 197h1v1h-1zM431 197h2v1h-2zM435 197h1v1h-1zM438 197h1v1h-1zM441 197h3v1h-3zM445 197h38v1h-38zM484 197h1v1h-1zM487 197h1v1h-1zM489 197h2v1h-2zM492 197h1v1h-1zM495 197h1v1h-1zM431 198h1v1h-1zM439 198h9v1h-9zM449 198h29v1h-29zM479 198h3v1h-3zM483 198h1v1h-1zM485 198h1v1h-1zM488 198h2v1h-2zM491 198h2v1h-2zM495 198h1v1h-1zM502 198h1v1h-1zM429 199h1v1h-1zM436 199h2v1h-2zM439 199h42v1h-42zM483 199h2v1h-2zM486 199h1v1h-1zM491 199h1v1h-1zM497 199h1v1h-1zM499 199h1v1h-1zM434 200h2v1h-2zM438 200h2v1h-2zM441 200h39v1h-39zM482 200h1v1h-1zM487 200h1v1h-1zM489 200h1v1h-1zM504 200h1v1h-1zM427 201h1v1h-1zM435 201h5v1h-5zM441 201h4v1h-4zM446 201h28v1h-28zM475 201h8v1h-8zM486 201h1v1h-1zM428 202h1v1h-1zM435 202h1v1h-1zM437 202h2v1h-2zM440 202h4v1h-4zM445 202h31v1h-31zM477 202h6v1h-6zM485 202h1v1h-1zM493 202h1v1h-1zM430 203h1v1h-1zM433 203h1v1h-1zM435 203h1v1h-1zM440 203h1v1h-1zM443 203h28v1h-28zM472 203h5v1h-5zM478 203h1v1h-1zM482 203h1v1h-1zM485 203h1v1h-1zM436 204h1v1h-1zM438 204h1v1h-1zM441 204h8v1h-8zM450 204h26v1h-26zM477 204h3v1h-3zM481 204h2v1h-2zM487 204h1v1h-1zM432 205h1v1h-1zM435 205h1v1h-1zM440 205h1v1h-1zM442 205h36v1h-36zM480 205h2v1h-2zM485 205h3v1h-3zM432 206h1v1h-1zM439 206h1v1h-1zM442 206h2v1h-2zM445 206h30v1h-30zM476 206h2v1h-2zM479 206h1v1h-1zM481 206h2v1h-2zM484 206h1v1h-1zM486 206h1v1h-1zM430 207h1v1h-1zM436 207h2v1h-2zM439 207h1v1h-1zM441 207h2v1h-2zM445 207h20v1h-20zM466 207h6v1h-6zM473 207h1v1h-1zM476 207h3v1h-3zM480 207h2v1h-2zM486 207h1v1h-1zM433 208h1v1h-1zM436 208h1v1h-1zM438 208h3v1h-3zM442 208h3v1h-3zM446 208h25v1h-25zM473 208h4v1h-4zM478 208h1v1h-1zM480 208h1v1h-1zM487 208h1v1h-1zM434 209h1v1h-1zM437 209h1v1h-1zM439 209h2v1h-2zM443 209h1v1h-1zM445 209h1v1h-1zM447 209h22v1h-22zM470 209h6v1h-6zM478 209h3v1h-3zM484 209h1v1h-1zM486 209h1v1h-1zM488 209h2v1h-2zM493 209h1v1h-1zM496 209h1v1h-1zM431 210h1v1h-1zM434 210h1v1h-1zM437 210h2v1h-2zM440 210h1v1h-1zM442 210h4v1h-4zM447 210h3v1h-3zM451 210h1v1h-1zM453 210h1v1h-1zM455 210h11v1h-11zM468 210h7v1h-7zM476 210h1v1h-1zM478 210h1v1h-1zM480 210h1v1h-1zM482 210h2v1h-2zM488 210h1v1h-1zM440 211h1v1h-1zM442 211h2v1h-2zM446 211h10v1h-10zM457 211h1v1h-1zM459 211h13v1h-13zM473 211h1v1h-1zM475 211h2v1h-2zM479 211h1v1h-1zM431 212h2v1h-2zM441 212h6v1h-6zM448 212h1v1h-1zM450 212h1v1h-1zM454 212h6v1h-6zM461 212h7v1h-7zM470 212h4v1h-4zM475 212h1v1h-1zM480 212h1v1h-1zM484 212h1v1h-1zM432 213h1v1h-1zM441 213h1v1h-1zM444 213h1v1h-1zM446 213h10v1h-10zM457 213h14v1h-14zM473 213h5v1h-5zM480 213h1v1h-1zM490 213h1v1h-1zM435 214h2v1h-2zM438 214h1v1h-1zM441 214h1v1h-1zM443 214h3v1h-3zM447 214h1v1h-1zM449 214h3v1h-3zM453 214h12v1h-12zM466 214h2v1h-2zM471 214h1v1h-1zM473 214h1v1h-1zM476 214h2v1h-2zM479 214h1v1h-1zM444 215h2v1h-2zM447 215h4v1h-4zM453 215h8v1h-8zM462 215h3v1h-3zM467 215h1v1h-1zM469 215h1v1h-1zM473 215h1v1h-1zM475 215h1v1h-1zM479 215h1v1h-1zM486 215h1v1h-1zM435 216h1v1h-1zM438 216h1v1h-1zM440 216h1v1h-1zM443 216h1v1h-1zM446 216h1v1h-1zM449 216h1v1h-1zM451 216h2v1h-2zM454 216h1v1h-1zM457 216h2v1h-2zM462 216h2v1h-2zM466 216h2v1h-2zM469 216h1v1h-1zM472 216h1v1h-1zM442 217h1v1h-1zM447 217h2v1h-2zM451 217h1v1h-1zM453 217h4v1h-4zM462 217h1v1h-1zM464 217h2v1h-2zM467 217h1v1h-1zM471 217h1v1h-1zM475 217h1v1h-1zM480 217h1v1h-1zM482 217h1v1h-1zM435 218h1v1h-1zM441 218h4v1h-4zM448 218h3v1h-3zM453 218h1v1h-1zM456 218h1v1h-1zM459 218h2v1h-2zM462 218h1v1h-1zM465 218h1v1h-1zM468 218h3v1h-3zM475 218h2v1h-2zM481 218h1v1h-1zM441 219h1v1h-1zM443 219h1v1h-1zM446 219h1v1h-1zM448 219h1v1h-1zM450 219h2v1h-2zM454 219h1v1h-1zM456 219h1v1h-1zM458 219h1v1h-1zM461 219h1v1h-1zM463 219h1v1h-1zM465 219h1v1h-1zM467 219h1v1h-1zM472 219h2v1h-2zM476 219h1v1h-1zM487 219h1v1h-1zM438 220h1v1h-1zM442 220h2v1h-2zM450 220h1v1h-1zM452 220h3v1h-3zM456 220h1v1h-1zM458 220h2v1h-2zM461 220h2v1h-2zM464 220h1v1h-1zM466 220h1v1h-1zM469 220h1v1h-1zM437 221h1v1h-1zM442 221h1v1h-1zM448 221h5v1h-5zM456 221h2v1h-2zM459 221h1v1h-1zM461 221h4v1h-4zM471 221h1v1h-1zM477 221h1v1h-1zM481 221h1v1h-1zM427 222h1v1h-1zM442 222h4v1h-4zM449 222h3v1h-3zM453 222h5v1h-5zM459 222h1v1h-1zM462 222h1v1h-1zM465 222h3v1h-3zM469 222h1v1h-1zM481 222h1v1h-1zM498 222h1v1h-1zM442 223h3v1h-3zM447 223h1v1h-1zM451 223h1v1h-1zM460 223h1v1h-1zM463 223h2v1h-2zM470 223h1v1h-1zM430 224h1v1h-1zM436 224h1v1h-1zM443 224h2v1h-2zM448 224h1v1h-1zM452 224h2v1h-2zM455 224h3v1h-3zM459 224h4v1h-4zM464 224h1v1h-1zM466 224h1v1h-1zM470 224h1v1h-1zM480 224h1v1h-1zM444 225h1v1h-1zM447 225h2v1h-2zM452 225h1v1h-1zM456 225h4v1h-4zM461 225h1v1h-1zM463 225h2v1h-2zM467 225h1v1h-1zM480 225h1v1h-1zM483 225h1v1h-1zM431 226h1v1h-1zM438 226h1v1h-1zM440 226h2v1h-2zM447 226h1v1h-1zM455 226h2v1h-2zM459 226h1v1h-1zM461 226h1v1h-1zM465 226h1v1h-1zM474 226h1v1h-1zM487 226h1v1h-1zM428 227h1v1h-1zM430 227h1v1h-1zM437 227h1v1h-1zM440 227h1v1h-1zM443 227h1v1h-1zM446 227h2v1h-2zM449 227h2v1h-2zM452 227h4v1h-4zM458 227h2v1h-2zM462 227h1v1h-1zM466 227h1v1h-1zM479 227h1v1h-1zM443 228h1v1h-1zM445 228h1v1h-1zM447 228h1v1h-1zM449 228h3v1h-3zM453 228h2v1h-2zM459 228h2v1h-2zM469 228h1v1h-1zM471 228h1v1h-1zM493 228h1v1h-1zM435 229h1v1h-1zM444 229h1v1h-1zM449 229h2v1h-2zM452 229h4v1h-4zM457 229h3v1h-3zM463 229h1v1h-1zM441 230h1v1h-1zM447 230h1v1h-1zM454 230h4v1h-4zM463 230h1v1h-1zM465 230h1v1h-1zM468 230h1v1h-1zM470 230h2v1h-2zM474 230h1v1h-1zM480 230h1v1h-1zM484 230h1v1h-1zM442 231h1v1h-1zM444 231h3v1h-3zM451 231h1v1h-1zM453 231h6v1h-6zM462 231h1v1h-1zM465 231h1v1h-1zM476 231h2v1h-2zM492 231h1v1h-1zM442 232h2v1h-2zM446 232h4v1h-4zM451 232h1v1h-1zM457 232h1v1h-1zM460 232h1v1h-1zM462 232h1v1h-1zM464 232h1v1h-1zM468 232h2v1h-2zM472 232h1v1h-1zM438 233h1v1h-1zM440 233h1v1h-1zM446 233h5v1h-5zM453 233h1v1h-1zM456 233h3v1h-3zM461 233h1v1h-1zM436 234h1v1h-1zM438 234h4v1h-4zM445 234h2v1h-2zM448 234h3v1h-3zM453 234h1v1h-1zM455 234h5v1h-5zM463 234h3v1h-3zM467 234h1v1h-1zM469 234h1v1h-1zM473 234h1v1h-1zM476 234h1v1h-1zM482 234h1v1h-1zM485 234h1v1h-1zM428 235h1v1h-1zM437 235h1v1h-1zM439 235h1v1h-1zM442 235h1v1h-1zM444 235h1v1h-1zM447 235h6v1h-6zM454 235h4v1h-4zM459 235h1v1h-1zM461 235h5v1h-5zM471 235h1v1h-1zM479 235h1v1h-1zM488 235h1v1h-1zM435 236h4v1h-4zM440 236h2v1h-2zM445 236h5v1h-5zM451 236h2v1h-2zM454 236h1v1h-1zM457 236h4v1h-4zM462 236h2v1h-2zM465 236h1v1h-1zM467 236h2v1h-2zM470 236h4v1h-4zM479 236h1v1h-1zM427 237h1v1h-1zM435 237h7v1h-7zM443 237h3v1h-3zM447 237h5v1h-5zM453 237h2v1h-2zM456 237h9v1h-9zM467 237h1v1h-1zM470 237h2v1h-2zM475 237h1v1h-1zM488 237h1v1h-1zM491 237h1v1h-1zM431 238h1v1h-1zM434 238h1v1h-1zM439 238h2v1h-2zM442 238h3v1h-3zM446 238h15v1h-15zM463 238h3v1h-3zM467 238h1v1h-1zM470 238h2v1h-2zM474 238h1v1h-1zM476 238h4v1h-4zM485 238h1v1h-1zM424 239h1v1h-1zM428 239h1v1h-1zM434 239h1v1h-1zM436 239h2v1h-2zM440 239h1v1h-1zM442 239h5v1h-5zM449 239h4v1h-4zM455 239h9v1h-9zM465 239h1v1h-1zM468 239h2v1h-2zM472 239h1v1h-1zM475 239h5v1h-5zM481 239h1v1h-1zM423 240h1v1h-1zM427 240h1v1h-1zM431 240h12v1h-12zM444 240h24v1h-24zM469 240h3v1h-3zM474 240h1v1h-1zM476 240h3v1h-3zM480 240h1v1h-1zM483 240h1v1h-1zM491 240h1v1h-1zM429 241h1v1h-1zM435 241h10v1h-10zM446 241h29v1h-29zM476 241h1v1h-1zM478 241h1v1h-1zM483 241h1v1h-1zM492 241h1v1h-1zM424 242h1v1h-1zM426 242h1v1h-1zM428 242h1v1h-1zM430 242h3v1h-3zM434 242h1v1h-1zM436 242h1v1h-1zM438 242h1v1h-1zM441 242h25v1h-25zM467 242h1v1h-1zM469 242h1v1h-1zM472 242h1v1h-1zM476 242h1v1h-1zM481 242h2v1h-2zM484 242h1v1h-1zM497 242h1v1h-1zM420 243h1v1h-1zM425 243h2v1h-2zM430 243h1v1h-1zM432 243h6v1h-6zM439 243h32v1h-32zM472 243h5v1h-5zM478 243h1v1h-1zM482 243h2v1h-2zM485 243h1v1h-1zM489 243h2v1h-2zM492 243h1v1h-1zM499 243h1v1h-1zM425 244h1v1h-1zM427 244h2v1h-2zM432 244h42v1h-42zM475 244h2v1h-2zM478 244h2v1h-2zM485 244h1v1h-1zM488 244h2v1h-2zM491 244h1v1h-1zM428 245h1v1h-1zM430 245h1v1h-1zM432 245h5v1h-5zM438 245h38v1h-38zM477 245h3v1h-3zM484 245h1v1h-1zM492 245h1v1h-1zM501 245h1v1h-1zM424 246h1v1h-1zM428 246h1v1h-1zM431 246h47v1h-47zM479 246h1v1h-1zM482 246h2v1h-2zM485 246h1v1h-1zM489 246h1v1h-1zM504 246h1v1h-1zM421 247h2v1h-2zM426 247h1v1h-1zM428 247h1v1h-1zM431 247h1v1h-1zM433 247h37v1h-37zM471 247h3v1h-3zM475 247h2v1h-2zM478 247h2v1h-2zM481 247h3v1h-3zM485 247h2v1h-2zM502 247h1v1h-1zM420 248h1v1h-1zM429 248h1v1h-1zM431 248h48v1h-48zM480 248h1v1h-1zM486 248h1v1h-1zM489 248h2v1h-2zM494 248h1v1h-1zM423 249h1v1h-1zM426 249h1v1h-1zM428 249h1v1h-1zM431 249h33v1h-33zM465 249h1v1h-1zM467 249h10v1h-10zM478 249h4v1h-4zM484 249h1v1h-1zM426 250h3v1h-3zM431 250h1v1h-1zM433 250h41v1h-41zM475 250h3v1h-3zM479 250h2v1h-2zM482 250h1v1h-1zM485 250h3v1h-3zM489 250h1v1h-1zM421 251h1v1h-1zM423 251h5v1h-5zM429 251h49v1h-49zM479 251h4v1h-4zM487 251h1v1h-1zM493 251h1v1h-1zM427 252h1v1h-1zM431 252h1v1h-1zM433 252h48v1h-48zM485 252h2v1h-2zM491 252h1v1h-1zM493 252h1v1h-1zM496 252h1v1h-1zM426 253h1v1h-1zM428 253h48v1h-48zM477 253h2v1h-2zM480 253h1v1h-1zM482 253h2v1h-2zM487 253h2v1h-2zM429 254h51v1h-51zM481 254h2v1h-2zM484 254h1v1h-1zM486 254h2v1h-2zM489 254h3v1h-3zM494 254h2v1h-2zM426 255h1v1h-1zM429 255h45v1h-45zM476 255h1v1h-1zM479 255h2v1h-2zM483 255h1v1h-1zM489 255h1v1h-1zM492 255h1v1h-1zM496 255h2v1h-2zM422 256h1v1h-1zM424 256h1v1h-1zM429 256h44v1h-44zM474 256h2v1h-2zM477 256h7v1h-7zM486 256h1v1h-1zM488 256h2v1h-2zM500 256h1v1h-1zM421 257h1v1h-1zM426 257h1v1h-1zM430 257h1v1h-1zM432 257h47v1h-47zM481 257h1v1h-1zM484 257h1v1h-1zM492 257h1v1h-1zM502 257h1v1h-1zM421 258h2v1h-2zM424 258h1v1h-1zM426 258h1v1h-1zM429 258h2v1h-2zM432 258h43v1h-43zM476 258h6v1h-6zM486 258h1v1h-1zM495 258h1v1h-1zM497 258h1v1h-1zM429 259h3v1h-3zM433 259h50v1h-50zM488 259h1v1h-1zM490 259h1v1h-1zM421 260h2v1h-2zM424 260h1v1h-1zM427 260h50v1h-50zM478 260h3v1h-3zM483 260h1v1h-1zM485 260h4v1h-4zM492 260h1v1h-1zM498 260h1v1h-1z" fill="#cbcbcb"/>
<rect x="417.1" y="167.8" width="88.90" height="94.80" fill="none" stroke="#111" stroke-width="1.5"/>
<path d="M445.4 167.8V262.6M417.1 230.4H506.0" stroke="#111" stroke-width="1.5" fill="none"/>
<path d="M417.10 262.6v4.2M439.33 262.6v4.2M461.55 262.6v4.2M483.77 262.6v4.2M506.00 262.6v4.2M423.79 262.6v2.6M427.70 262.6v2.6M430.48 262.6v2.6M432.63 262.6v2.6M434.39 262.6v2.6M435.88 262.6v2.6M437.17 262.6v2.6M438.31 262.6v2.6M446.02 262.6v2.6M449.93 262.6v2.6M452.71 262.6v2.6M454.86 262.6v2.6M456.62 262.6v2.6M458.11 262.6v2.6M459.40 262.6v2.6M460.53 262.6v2.6M468.24 262.6v2.6M472.15 262.6v2.6M474.93 262.6v2.6M477.08 262.6v2.6M478.84 262.6v2.6M480.33 262.6v2.6M481.62 262.6v2.6M482.76 262.6v2.6M490.47 262.6v2.6M494.38 262.6v2.6M497.16 262.6v2.6M499.31 262.6v2.6M501.07 262.6v2.6M502.56 262.6v2.6M503.85 262.6v2.6M504.98 262.6v2.6M417.1 262.60h-4.2M417.1 238.90h-4.2M417.1 215.20h-4.2M417.1 191.50h-4.2M417.1 167.80h-4.2M417.1 255.47h-2.6M417.1 251.29h-2.6M417.1 248.33h-2.6M417.1 246.03h-2.6M417.1 244.16h-2.6M417.1 242.57h-2.6M417.1 241.20h-2.6M417.1 239.98h-2.6M417.1 231.77h-2.6M417.1 227.59h-2.6M417.1 224.63h-2.6M417.1 222.33h-2.6M417.1 220.46h-2.6M417.1 218.87h-2.6M417.1 217.50h-2.6M417.1 216.28h-2.6M417.1 208.07h-2.6M417.1 203.89h-2.6M417.1 200.93h-2.6M417.1 198.63h-2.6M417.1 196.76h-2.6M417.1 195.17h-2.6M417.1 193.80h-2.6M417.1 192.58h-2.6M417.1 184.37h-2.6M417.1 180.19h-2.6M417.1 177.23h-2.6M417.1 174.93h-2.6M417.1 173.06h-2.6M417.1 171.47h-2.6M417.1 170.10h-2.6M417.1 168.88h-2.6" stroke="#111" stroke-width="1.3" fill="none"/>
<text transform="translate(411.73,274.50) scale(0.77,1)" font-size="9.3" text-anchor="start" fill="#111"  stroke="#111" stroke-width="0.5">10</text>
<text transform="translate(419.89,269.40) scale(0.77,1)" font-size="9.0" text-anchor="start" fill="#111"  stroke="#111" stroke-width="0.5">0</text>
<text transform="translate(433.75,274.50) scale(0.77,1)" font-size="9.3" text-anchor="start" fill="#111"  stroke="#111" stroke-width="0.5">10</text>
<text transform="translate(441.92,269.40) scale(0.77,1)" font-size="9.0" text-anchor="start" fill="#111"  stroke="#111" stroke-width="0.5">1</text>
<text transform="translate(455.78,274.50) scale(0.77,1)" font-size="9.3" text-anchor="start" fill="#111"  stroke="#111" stroke-width="0.5">10</text>
<text transform="translate(463.94,269.40) scale(0.77,1)" font-size="9.0" text-anchor="start" fill="#111"  stroke="#111" stroke-width="0.5">2</text>
<text transform="translate(477.80,274.50) scale(0.77,1)" font-size="9.3" text-anchor="start" fill="#111"  stroke="#111" stroke-width="0.5">10</text>
<text transform="translate(485.97,269.40) scale(0.77,1)" font-size="9.0" text-anchor="start" fill="#111"  stroke="#111" stroke-width="0.5">3</text>
<text transform="translate(499.83,274.50) scale(0.77,1)" font-size="9.3" text-anchor="start" fill="#111"  stroke="#111" stroke-width="0.5">10</text>
<text transform="translate(507.99,269.40) scale(0.77,1)" font-size="9.0" text-anchor="start" fill="#111"  stroke="#111" stroke-width="0.5">4</text>
<text transform="translate(410.80,268.40) rotate(-90) scale(0.77,1)" font-size="8.8" text-anchor="start" fill="#111"  stroke="#111" stroke-width="0.5">10</text>
<text transform="translate(406.50,259.57) rotate(-90) scale(0.77,1)" font-size="8.8" text-anchor="start" fill="#111"  stroke="#111" stroke-width="0.5">0</text>
<text transform="translate(410.80,244.70) rotate(-90) scale(0.77,1)" font-size="8.8" text-anchor="start" fill="#111"  stroke="#111" stroke-width="0.5">10</text>
<text transform="translate(406.50,235.87) rotate(-90) scale(0.77,1)" font-size="8.8" text-anchor="start" fill="#111"  stroke="#111" stroke-width="0.5">1</text>
<text transform="translate(410.80,221.00) rotate(-90) scale(0.77,1)" font-size="8.8" text-anchor="start" fill="#111"  stroke="#111" stroke-width="0.5">10</text>
<text transform="translate(406.50,212.17) rotate(-90) scale(0.77,1)" font-size="8.8" text-anchor="start" fill="#111"  stroke="#111" stroke-width="0.5">2</text>
<text transform="translate(410.80,197.30) rotate(-90) scale(0.77,1)" font-size="8.8" text-anchor="start" fill="#111"  stroke="#111" stroke-width="0.5">10</text>
<text transform="translate(406.50,188.47) rotate(-90) scale(0.77,1)" font-size="8.8" text-anchor="start" fill="#111"  stroke="#111" stroke-width="0.5">3</text>
<text transform="translate(410.80,173.60) rotate(-90) scale(0.77,1)" font-size="8.8" text-anchor="start" fill="#111"  stroke="#111" stroke-width="0.5">10</text>
<text transform="translate(406.50,164.77) rotate(-90) scale(0.77,1)" font-size="8.8" text-anchor="start" fill="#111"  stroke="#111" stroke-width="0.5">4</text>
<text transform="translate(400.30,216.20) rotate(-90) scale(0.97,1)" font-size="7.5" text-anchor="middle" fill="#111"  stroke="#111" stroke-width="0.4">FL4-H</text>
<text transform="translate(460.30,282.00) scale(0.8,1)" font-size="8.2" text-anchor="middle" fill="#111"  stroke="#111" stroke-width="0.4">FL1-H</text>
<text transform="translate(422.80,181.00) scale(0.96,1)" font-size="10.0" text-anchor="start" fill="#111"  stroke="#111" stroke-width="0.25">3,4</text>
<text transform="translate(498.80,181.00) scale(0.96,1)" font-size="10.0" text-anchor="end" fill="#111"  stroke="#111" stroke-width="0.25">38,6</text>
<text transform="translate(497.90,256.50) scale(0.96,1)" font-size="10.0" text-anchor="end" fill="#111"  stroke="#111" stroke-width="0.25">46,3</text>
<path d="M335 326h1v1h-1zM306 328h1v1h-1zM309 329h1v1h-1zM295 330h1v1h-1zM303 330h1v1h-1zM316 330h1v1h-1zM311 331h1v1h-1zM308 332h1v1h-1zM314 332h1v1h-1zM335 332h2v1h-2zM300 333h1v1h-1zM309 333h1v1h-1zM321 333h1v1h-1zM326 333h1v1h-1zM299 334h1v1h-1zM323 335h3v1h-3zM296 336h1v1h-1zM307 336h1v1h-1zM317 336h1v1h-1zM304 337h1v1h-1zM306 337h1v1h-1zM313 337h3v1h-3zM318 337h1v1h-1zM329 337h1v1h-1zM340 337h1v1h-1zM282 338h1v1h-1zM292 338h1v1h-1zM297 338h2v1h-2zM306 338h2v1h-2zM313 338h2v1h-2zM321 338h2v1h-2zM327 338h1v1h-1zM335 338h2v1h-2zM295 339h1v1h-1zM309 339h1v1h-1zM313 339h1v1h-1zM318 339h1v1h-1zM332 339h1v1h-1zM334 339h1v1h-1zM299 340h1v1h-1zM302 340h1v1h-1zM304 340h1v1h-1zM314 340h1v1h-1zM316 340h2v1h-2zM324 340h2v1h-2zM332 340h1v1h-1zM291 341h1v1h-1zM294 341h1v1h-1zM298 341h1v1h-1zM303 341h1v1h-1zM314 341h1v1h-1zM321 341h1v1h-1zM328 341h1v1h-1zM343 341h1v1h-1zM292 342h1v1h-1zM310 342h3v1h-3zM314 342h2v1h-2zM325 342h2v1h-2zM328 342h1v1h-1zM291 343h1v1h-1zM293 343h1v1h-1zM298 343h1v1h-1zM307 343h1v1h-1zM311 343h1v1h-1zM315 343h5v1h-5zM322 343h1v1h-1zM324 343h1v1h-1zM326 343h2v1h-2zM329 343h1v1h-1zM334 343h1v1h-1zM289 344h1v1h-1zM292 344h1v1h-1zM309 344h2v1h-2zM313 344h1v1h-1zM315 344h2v1h-2zM320 344h1v1h-1zM322 344h1v1h-1zM324 344h1v1h-1zM327 344h1v1h-1zM329 344h1v1h-1zM333 344h1v1h-1zM287 345h1v1h-1zM302 345h1v1h-1zM304 345h4v1h-4zM311 345h1v1h-1zM314 345h2v1h-2zM322 345h3v1h-3zM329 345h1v1h-1zM292 346h1v1h-1zM298 346h2v1h-2zM303 346h1v1h-1zM309 346h1v1h-1zM313 346h2v1h-2zM317 346h2v1h-2zM320 346h1v1h-1zM322 346h1v1h-1zM324 346h1v1h-1zM292 347h1v1h-1zM294 347h1v1h-1zM306 347h2v1h-2zM309 347h2v1h-2zM312 347h1v1h-1zM316 347h1v1h-1zM319 347h1v1h-1zM333 347h1v1h-1zM284 348h1v1h-1zM288 348h1v1h-1zM292 348h1v1h-1zM297 348h1v1h-1zM304 348h1v1h-1zM312 348h2v1h-2zM315 348h5v1h-5zM321 348h3v1h-3zM326 348h1v1h-1zM334 348h2v1h-2zM278 349h1v1h-1zM301 349h2v1h-2zM305 349h1v1h-1zM310 349h5v1h-5zM316 349h1v1h-1zM321 349h1v1h-1zM297 350h1v1h-1zM300 350h1v1h-1zM302 350h1v1h-1zM307 350h1v1h-1zM310 350h3v1h-3zM314 350h1v1h-1zM316 350h1v1h-1zM319 350h1v1h-1zM324 350h1v1h-1zM329 350h1v1h-1zM337 350h1v1h-1zM291 351h1v1h-1zM301 351h1v1h-1zM305 351h2v1h-2zM309 351h7v1h-7zM323 351h2v1h-2zM328 351h1v1h-1zM291 352h1v1h-1zM302 352h1v1h-1zM304 352h2v1h-2zM317 352h1v1h-1zM319 352h1v1h-1zM327 352h1v1h-1zM294 353h1v1h-1zM297 353h1v1h-1zM301 353h1v1h-1zM305 353h1v1h-1zM309 353h1v1h-1zM313 353h2v1h-2zM316 353h1v1h-1zM319 353h1v1h-1zM294 354h2v1h-2zM303 354h3v1h-3zM307 354h1v1h-1zM315 354h1v1h-1zM317 354h1v1h-1zM322 354h3v1h-3zM326 354h1v1h-1zM273 355h1v1h-1zM277 355h1v1h-1zM289 355h1v1h-1zM294 355h1v1h-1zM298 355h1v1h-1zM301 355h1v1h-1zM304 355h1v1h-1zM308 355h1v1h-1zM316 355h3v1h-3zM320 355h1v1h-1zM323 355h2v1h-2zM333 355h1v1h-1zM338 355h1v1h-1zM290 356h2v1h-2zM298 356h2v1h-2zM302 356h2v1h-2zM307 356h1v1h-1zM310 356h2v1h-2zM315 356h1v1h-1zM319 356h1v1h-1zM322 356h1v1h-1zM348 356h1v1h-1zM292 357h1v1h-1zM298 357h1v1h-1zM303 357h1v1h-1zM306 357h2v1h-2zM313 357h2v1h-2zM319 357h1v1h-1zM323 357h1v1h-1zM325 357h1v1h-1zM328 357h1v1h-1zM277 358h1v1h-1zM287 358h1v1h-1zM291 358h1v1h-1zM300 358h1v1h-1zM305 358h1v1h-1zM310 358h3v1h-3zM319 358h1v1h-1zM339 358h1v1h-1zM347 358h1v1h-1zM292 359h1v1h-1zM296 359h1v1h-1zM301 359h2v1h-2zM309 359h3v1h-3zM315 359h1v1h-1zM317 359h2v1h-2zM322 359h1v1h-1zM292 360h1v1h-1zM294 360h1v1h-1zM296 360h2v1h-2zM299 360h3v1h-3zM304 360h4v1h-4zM309 360h1v1h-1zM312 360h1v1h-1zM317 360h3v1h-3zM330 360h3v1h-3zM272 361h1v1h-1zM280 361h1v1h-1zM283 361h1v1h-1zM291 361h1v1h-1zM294 361h4v1h-4zM302 361h2v1h-2zM307 361h4v1h-4zM312 361h2v1h-2zM315 361h4v1h-4zM321 361h2v1h-2zM333 361h2v1h-2zM281 362h1v1h-1zM287 362h1v1h-1zM289 362h1v1h-1zM292 362h1v1h-1zM295 362h1v1h-1zM299 362h1v1h-1zM301 362h1v1h-1zM304 362h8v1h-8zM314 362h2v1h-2zM319 362h1v1h-1zM326 362h1v1h-1zM331 362h1v1h-1zM280 363h1v1h-1zM284 363h1v1h-1zM291 363h3v1h-3zM296 363h1v1h-1zM298 363h1v1h-1zM300 363h1v1h-1zM303 363h2v1h-2zM306 363h3v1h-3zM310 363h3v1h-3zM317 363h2v1h-2zM321 363h1v1h-1zM326 363h1v1h-1zM328 363h1v1h-1zM331 363h1v1h-1zM271 364h1v1h-1zM281 364h1v1h-1zM287 364h1v1h-1zM291 364h1v1h-1zM293 364h2v1h-2zM297 364h16v1h-16zM315 364h4v1h-4zM320 364h2v1h-2zM324 364h1v1h-1zM326 364h1v1h-1zM328 364h2v1h-2zM276 365h1v1h-1zM281 365h3v1h-3zM286 365h1v1h-1zM292 365h3v1h-3zM299 365h1v1h-1zM302 365h5v1h-5zM308 365h2v1h-2zM311 365h5v1h-5zM317 365h2v1h-2zM322 365h2v1h-2zM328 365h3v1h-3zM334 365h1v1h-1zM336 365h1v1h-1zM281 366h1v1h-1zM288 366h1v1h-1zM290 366h1v1h-1zM293 366h9v1h-9zM303 366h18v1h-18zM323 366h1v1h-1zM325 366h4v1h-4zM332 366h2v1h-2zM343 366h1v1h-1zM274 367h2v1h-2zM279 367h1v1h-1zM286 367h4v1h-4zM291 367h1v1h-1zM293 367h3v1h-3zM297 367h5v1h-5zM303 367h18v1h-18zM322 367h4v1h-4zM327 367h1v1h-1zM329 367h1v1h-1zM331 367h2v1h-2zM334 367h1v1h-1zM344 367h1v1h-1zM277 368h2v1h-2zM284 368h1v1h-1zM286 368h25v1h-25zM312 368h12v1h-12zM325 368h3v1h-3zM329 368h1v1h-1zM335 368h2v1h-2zM273 369h1v1h-1zM276 369h1v1h-1zM279 369h1v1h-1zM282 369h1v1h-1zM285 369h1v1h-1zM287 369h3v1h-3zM291 369h2v1h-2zM294 369h17v1h-17zM312 369h8v1h-8zM321 369h1v1h-1zM323 369h3v1h-3zM327 369h4v1h-4zM353 369h1v1h-1zM281 370h1v1h-1zM283 370h1v1h-1zM285 370h1v1h-1zM287 370h43v1h-43zM331 370h2v1h-2zM336 370h1v1h-1zM339 370h1v1h-1zM278 371h1v1h-1zM280 371h1v1h-1zM283 371h46v1h-46zM330 371h1v1h-1zM332 371h1v1h-1zM334 371h4v1h-4zM345 371h1v1h-1zM272 372h1v1h-1zM281 372h4v1h-4zM288 372h41v1h-41zM330 372h3v1h-3zM337 372h1v1h-1zM343 372h1v1h-1zM272 373h1v1h-1zM278 373h1v1h-1zM281 373h7v1h-7zM289 373h41v1h-41zM331 373h3v1h-3zM335 373h1v1h-1zM337 373h1v1h-1zM342 373h1v1h-1zM275 374h1v1h-1zM281 374h2v1h-2zM284 374h46v1h-46zM331 374h1v1h-1zM333 374h1v1h-1zM335 374h1v1h-1zM345 374h1v1h-1zM273 375h1v1h-1zM275 375h1v1h-1zM278 375h4v1h-4zM283 375h1v1h-1zM285 375h39v1h-39zM325 375h2v1h-2zM328 375h3v1h-3zM333 375h2v1h-2zM341 375h1v1h-1zM273 376h1v1h-1zM279 376h44v1h-44zM324 376h4v1h-4zM329 376h4v1h-4zM335 376h2v1h-2zM348 376h1v1h-1zM271 377h2v1h-2zM276 377h1v1h-1zM278 377h3v1h-3zM284 377h47v1h-47zM332 377h5v1h-5zM339 377h1v1h-1zM341 377h1v1h-1zM271 378h2v1h-2zM274 378h1v1h-1zM277 378h1v1h-1zM279 378h5v1h-5zM285 378h46v1h-46zM332 378h2v1h-2zM335 378h2v1h-2zM339 378h1v1h-1zM359 378h1v1h-1zM271 379h1v1h-1zM281 379h1v1h-1zM283 379h49v1h-49zM333 379h1v1h-1zM335 379h1v1h-1zM337 379h1v1h-1zM339 379h2v1h-2zM345 379h1v1h-1zM272 380h1v1h-1zM278 380h1v1h-1zM284 380h51v1h-51zM337 380h2v1h-2zM342 380h2v1h-2zM271 381h1v1h-1zM278 381h2v1h-2zM281 381h2v1h-2zM284 381h50v1h-50zM335 381h2v1h-2zM339 381h1v1h-1zM271 382h1v1h-1zM274 382h1v1h-1zM278 382h5v1h-5zM284 382h1v1h-1zM286 382h44v1h-44zM332 382h3v1h-3zM336 382h1v1h-1zM338 382h2v1h-2zM274 383h1v1h-1zM277 383h1v1h-1zM280 383h1v1h-1zM282 383h2v1h-2zM285 383h44v1h-44zM330 383h2v1h-2zM333 383h1v1h-1zM337 383h1v1h-1zM342 383h1v1h-1zM345 383h1v1h-1zM271 384h1v1h-1zM276 384h1v1h-1zM279 384h1v1h-1zM281 384h1v1h-1zM283 384h46v1h-46zM330 384h3v1h-3zM334 384h3v1h-3zM338 384h1v1h-1zM342 384h1v1h-1zM271 385h1v1h-1zM277 385h1v1h-1zM283 385h1v1h-1zM285 385h41v1h-41zM327 385h2v1h-2zM331 385h2v1h-2zM336 385h2v1h-2zM342 385h1v1h-1zM344 385h1v1h-1zM278 386h1v1h-1zM280 386h1v1h-1zM282 386h40v1h-40zM323 386h11v1h-11zM337 386h1v1h-1zM341 386h1v1h-1zM345 386h1v1h-1zM278 387h2v1h-2zM283 387h1v1h-1zM288 387h40v1h-40zM329 387h10v1h-10zM341 387h1v1h-1zM349 387h2v1h-2zM277 388h2v1h-2zM284 388h4v1h-4zM290 388h41v1h-41zM333 388h1v1h-1zM335 388h1v1h-1zM340 388h1v1h-1zM342 388h1v1h-1zM274 389h1v1h-1zM285 389h2v1h-2zM288 389h1v1h-1zM290 389h40v1h-40zM331 389h1v1h-1zM333 389h4v1h-4zM338 389h2v1h-2zM274 390h1v1h-1zM282 390h2v1h-2zM285 390h1v1h-1zM288 390h44v1h-44zM333 390h3v1h-3zM337 390h1v1h-1zM339 390h1v1h-1zM347 390h1v1h-1zM283 391h5v1h-5zM289 391h32v1h-32zM322 391h7v1h-7zM332 391h2v1h-2zM344 391h2v1h-2zM273 392h1v1h-1zM275 392h1v1h-1zM278 392h1v1h-1zM283 392h6v1h-6zM290 392h3v1h-3zM294 392h30v1h-30zM326 392h5v1h-5zM333 392h4v1h-4zM343 392h1v1h-1zM353 392h1v1h-1zM280 393h1v1h-1zM284 393h2v1h-2zM287 393h1v1h-1zM289 393h3v1h-3zM293 393h32v1h-32zM328 393h2v1h-2zM331 393h2v1h-2zM334 393h1v1h-1zM336 393h1v1h-1zM346 393h1v1h-1zM279 394h1v1h-1zM283 394h2v1h-2zM288 394h5v1h-5zM294 394h22v1h-22zM317 394h11v1h-11zM330 394h2v1h-2zM333 394h2v1h-2zM340 394h1v1h-1zM344 394h1v1h-1z" fill="#cbcbcb"/>
<rect x="269.7" y="304.2" width="92.30" height="92.50" fill="none" stroke="#111" stroke-width="1.5"/>
<path d="M316.5 304.2V396.7M269.7 357.4H362.0" stroke="#111" stroke-width="1.5" fill="none"/>
<path d="M269.70 396.7v4.2M292.77 396.7v4.2M315.85 396.7v4.2M338.93 396.7v4.2M362.00 396.7v4.2M276.65 396.7v2.6M280.71 396.7v2.6M283.59 396.7v2.6M285.83 396.7v2.6M287.66 396.7v2.6M289.20 396.7v2.6M290.54 396.7v2.6M291.72 396.7v2.6M299.72 396.7v2.6M303.78 396.7v2.6M306.67 396.7v2.6M308.90 396.7v2.6M310.73 396.7v2.6M312.28 396.7v2.6M313.61 396.7v2.6M314.79 396.7v2.6M322.80 396.7v2.6M326.86 396.7v2.6M329.74 396.7v2.6M331.98 396.7v2.6M333.81 396.7v2.6M335.35 396.7v2.6M336.69 396.7v2.6M337.87 396.7v2.6M345.87 396.7v2.6M349.93 396.7v2.6M352.82 396.7v2.6M355.05 396.7v2.6M356.88 396.7v2.6M358.43 396.7v2.6M359.76 396.7v2.6M360.94 396.7v2.6M269.7 396.70h-4.2M269.7 373.57h-4.2M269.7 350.45h-4.2M269.7 327.32h-4.2M269.7 304.20h-4.2M269.7 389.74h-2.6M269.7 385.67h-2.6M269.7 382.78h-2.6M269.7 380.54h-2.6M269.7 378.71h-2.6M269.7 377.16h-2.6M269.7 375.82h-2.6M269.7 374.63h-2.6M269.7 366.61h-2.6M269.7 362.54h-2.6M269.7 359.65h-2.6M269.7 357.41h-2.6M269.7 355.58h-2.6M269.7 354.03h-2.6M269.7 352.69h-2.6M269.7 351.51h-2.6M269.7 343.49h-2.6M269.7 339.42h-2.6M269.7 336.53h-2.6M269.7 334.29h-2.6M269.7 332.46h-2.6M269.7 330.91h-2.6M269.7 329.57h-2.6M269.7 328.38h-2.6M269.7 320.36h-2.6M269.7 316.29h-2.6M269.7 313.40h-2.6M269.7 311.16h-2.6M269.7 309.33h-2.6M269.7 307.78h-2.6M269.7 306.44h-2.6M269.7 305.26h-2.6" stroke="#111" stroke-width="1.3" fill="none"/>
<text transform="translate(264.33,410.20) scale(0.77,1)" font-size="9.3" text-anchor="start" fill="#111"  stroke="#111" stroke-width="0.5">10</text>
<text transform="translate(272.49,405.10) scale(0.77,1)" font-size="9.0" text-anchor="start" fill="#111"  stroke="#111" stroke-width="0.5">0</text>
<text transform="translate(287.20,410.20) scale(0.77,1)" font-size="9.3" text-anchor="start" fill="#111"  stroke="#111" stroke-width="0.5">10</text>
<text transform="translate(295.37,405.10) scale(0.77,1)" font-size="9.0" text-anchor="start" fill="#111"  stroke="#111" stroke-width="0.5">1</text>
<text transform="translate(310.08,410.20) scale(0.77,1)" font-size="9.3" text-anchor="start" fill="#111"  stroke="#111" stroke-width="0.5">10</text>
<text transform="translate(318.24,405.10) scale(0.77,1)" font-size="9.0" text-anchor="start" fill="#111"  stroke="#111" stroke-width="0.5">2</text>
<text transform="translate(332.95,410.20) scale(0.77,1)" font-size="9.3" text-anchor="start" fill="#111"  stroke="#111" stroke-width="0.5">10</text>
<text transform="translate(341.12,405.10) scale(0.77,1)" font-size="9.0" text-anchor="start" fill="#111"  stroke="#111" stroke-width="0.5">3</text>
<text transform="translate(355.83,410.20) scale(0.77,1)" font-size="9.3" text-anchor="start" fill="#111"  stroke="#111" stroke-width="0.5">10</text>
<text transform="translate(363.99,405.10) scale(0.77,1)" font-size="9.0" text-anchor="start" fill="#111"  stroke="#111" stroke-width="0.5">4</text>
<text transform="translate(263.40,402.50) rotate(-90) scale(0.77,1)" font-size="8.8" text-anchor="start" fill="#111"  stroke="#111" stroke-width="0.5">10</text>
<text transform="translate(259.10,393.67) rotate(-90) scale(0.77,1)" font-size="8.8" text-anchor="start" fill="#111"  stroke="#111" stroke-width="0.5">0</text>
<text transform="translate(263.40,379.38) rotate(-90) scale(0.77,1)" font-size="8.8" text-anchor="start" fill="#111"  stroke="#111" stroke-width="0.5">10</text>
<text transform="translate(259.10,370.54) rotate(-90) scale(0.77,1)" font-size="8.8" text-anchor="start" fill="#111"  stroke="#111" stroke-width="0.5">1</text>
<text transform="translate(263.40,356.25) rotate(-90) scale(0.77,1)" font-size="8.8" text-anchor="start" fill="#111"  stroke="#111" stroke-width="0.5">10</text>
<text transform="translate(259.10,347.42) rotate(-90) scale(0.77,1)" font-size="8.8" text-anchor="start" fill="#111"  stroke="#111" stroke-width="0.5">2</text>
<text transform="translate(263.40,333.13) rotate(-90) scale(0.77,1)" font-size="8.8" text-anchor="start" fill="#111"  stroke="#111" stroke-width="0.5">10</text>
<text transform="translate(259.10,324.29) rotate(-90) scale(0.77,1)" font-size="8.8" text-anchor="start" fill="#111"  stroke="#111" stroke-width="0.5">3</text>
<text transform="translate(263.40,310.00) rotate(-90) scale(0.77,1)" font-size="8.8" text-anchor="start" fill="#111"  stroke="#111" stroke-width="0.5">10</text>
<text transform="translate(259.10,301.17) rotate(-90) scale(0.77,1)" font-size="8.8" text-anchor="start" fill="#111"  stroke="#111" stroke-width="0.5">4</text>
<text transform="translate(252.90,351.45) rotate(-90) scale(0.97,1)" font-size="7.5" text-anchor="middle" fill="#111"  stroke="#111" stroke-width="0.4">FL4-H</text>
<text transform="translate(313.70,416.40) scale(0.9,1)" font-size="8.2" text-anchor="middle" fill="#111"  stroke="#111" stroke-width="0.4">FL1-H</text>
<text transform="translate(273.80,313.90) scale(0.96,1)" font-size="10.0" text-anchor="start" fill="#111"  stroke="#111" stroke-width="0.25">1,24</text>
<text transform="translate(357.60,313.90) scale(0.96,1)" font-size="10.0" text-anchor="end" fill="#111"  stroke="#111" stroke-width="0.25">1,2</text>
<text transform="translate(357.30,391.50) scale(0.96,1)" font-size="10.0" text-anchor="end" fill="#111"  stroke="#111" stroke-width="0.25">11,4</text>
<path d="M471 308h1v1h-1zM481 309h1v1h-1zM450 310h1v1h-1zM472 310h1v1h-1zM469 311h1v1h-1zM475 311h1v1h-1zM444 312h1v1h-1zM450 312h1v1h-1zM452 312h1v1h-1zM468 312h1v1h-1zM470 312h1v1h-1zM476 312h1v1h-1zM428 313h1v1h-1zM457 313h2v1h-2zM462 313h1v1h-1zM466 313h1v1h-1zM443 314h1v1h-1zM447 314h1v1h-1zM453 314h1v1h-1zM456 314h1v1h-1zM462 314h1v1h-1zM464 314h1v1h-1zM466 314h1v1h-1zM470 314h1v1h-1zM472 314h1v1h-1zM481 314h1v1h-1zM493 314h1v1h-1zM430 315h1v1h-1zM441 315h1v1h-1zM445 315h1v1h-1zM449 315h2v1h-2zM452 315h4v1h-4zM458 315h2v1h-2zM461 315h1v1h-1zM463 315h1v1h-1zM466 315h1v1h-1zM469 315h1v1h-1zM472 315h1v1h-1zM477 315h1v1h-1zM479 315h1v1h-1zM490 315h1v1h-1zM429 316h1v1h-1zM431 316h1v1h-1zM438 316h2v1h-2zM443 316h1v1h-1zM445 316h2v1h-2zM449 316h4v1h-4zM454 316h2v1h-2zM457 316h5v1h-5zM463 316h2v1h-2zM468 316h2v1h-2zM473 316h1v1h-1zM482 316h1v1h-1zM491 316h1v1h-1zM496 316h1v1h-1zM423 317h1v1h-1zM427 317h1v1h-1zM442 317h2v1h-2zM445 317h3v1h-3zM449 317h1v1h-1zM452 317h3v1h-3zM459 317h1v1h-1zM462 317h5v1h-5zM469 317h3v1h-3zM473 317h2v1h-2zM476 317h1v1h-1zM492 317h1v1h-1zM430 318h1v1h-1zM436 318h1v1h-1zM438 318h1v1h-1zM440 318h2v1h-2zM443 318h1v1h-1zM445 318h12v1h-12zM458 318h4v1h-4zM463 318h3v1h-3zM470 318h3v1h-3zM474 318h1v1h-1zM477 318h4v1h-4zM433 319h3v1h-3zM438 319h3v1h-3zM442 319h22v1h-22zM467 319h1v1h-1zM469 319h1v1h-1zM471 319h1v1h-1zM474 319h2v1h-2zM483 319h1v1h-1zM429 320h1v1h-1zM431 320h1v1h-1zM433 320h1v1h-1zM435 320h1v1h-1zM438 320h2v1h-2zM441 320h24v1h-24zM467 320h7v1h-7zM476 320h2v1h-2zM479 320h3v1h-3zM428 321h2v1h-2zM431 321h38v1h-38zM470 321h3v1h-3zM474 321h2v1h-2zM477 321h2v1h-2zM481 321h1v1h-1zM483 321h2v1h-2zM486 321h1v1h-1zM488 321h1v1h-1zM417 322h1v1h-1zM427 322h1v1h-1zM432 322h1v1h-1zM434 322h27v1h-27zM462 322h8v1h-8zM472 322h1v1h-1zM474 322h3v1h-3zM478 322h4v1h-4zM498 322h1v1h-1zM425 323h1v1h-1zM428 323h1v1h-1zM431 323h43v1h-43zM475 323h4v1h-4zM480 323h4v1h-4zM417 324h1v1h-1zM428 324h1v1h-1zM430 324h1v1h-1zM433 324h43v1h-43zM478 324h2v1h-2zM482 324h1v1h-1zM485 324h1v1h-1zM489 324h1v1h-1zM424 325h1v1h-1zM428 325h1v1h-1zM430 325h45v1h-45zM477 325h6v1h-6zM486 325h1v1h-1zM492 325h1v1h-1zM497 325h1v1h-1zM418 326h1v1h-1zM422 326h2v1h-2zM427 326h47v1h-47zM475 326h1v1h-1zM477 326h2v1h-2zM482 326h2v1h-2zM486 326h1v1h-1zM488 326h2v1h-2zM491 326h1v1h-1zM424 327h4v1h-4zM429 327h3v1h-3zM433 327h48v1h-48zM483 327h2v1h-2zM493 327h1v1h-1zM426 328h51v1h-51zM478 328h8v1h-8zM490 328h1v1h-1zM425 329h1v1h-1zM427 329h57v1h-57zM488 329h1v1h-1zM491 329h1v1h-1zM427 330h2v1h-2zM430 330h35v1h-35zM466 330h9v1h-9zM476 330h6v1h-6zM483 330h2v1h-2zM486 330h1v1h-1zM490 330h1v1h-1zM424 331h3v1h-3zM428 331h40v1h-40zM469 331h8v1h-8zM478 331h5v1h-5zM484 331h2v1h-2zM488 331h1v1h-1zM420 332h1v1h-1zM423 332h1v1h-1zM425 332h57v1h-57zM484 332h1v1h-1zM493 332h1v1h-1zM495 332h1v1h-1zM497 332h1v1h-1zM426 333h1v1h-1zM428 333h9v1h-9zM438 333h33v1h-33zM472 333h3v1h-3zM476 333h2v1h-2zM480 333h1v1h-1zM483 333h3v1h-3zM487 333h1v1h-1zM492 333h1v1h-1zM420 334h1v1h-1zM424 334h1v1h-1zM426 334h1v1h-1zM429 334h10v1h-10zM440 334h12v1h-12zM453 334h5v1h-5zM459 334h1v1h-1zM462 334h1v1h-1zM464 334h12v1h-12zM479 334h8v1h-8zM425 335h1v1h-1zM429 335h1v1h-1zM432 335h2v1h-2zM435 335h6v1h-6zM442 335h9v1h-9zM452 335h4v1h-4zM457 335h5v1h-5zM463 335h2v1h-2zM466 335h4v1h-4zM471 335h1v1h-1zM473 335h2v1h-2zM476 335h3v1h-3zM480 335h1v1h-1zM482 335h1v1h-1zM488 335h1v1h-1zM426 336h2v1h-2zM430 336h4v1h-4zM435 336h15v1h-15zM452 336h10v1h-10zM464 336h3v1h-3zM468 336h2v1h-2zM471 336h1v1h-1zM473 336h1v1h-1zM475 336h7v1h-7zM484 336h2v1h-2zM489 336h1v1h-1zM422 337h2v1h-2zM435 337h4v1h-4zM440 337h14v1h-14zM455 337h2v1h-2zM458 337h2v1h-2zM462 337h3v1h-3zM466 337h1v1h-1zM469 337h1v1h-1zM471 337h2v1h-2zM475 337h3v1h-3zM498 337h1v1h-1zM427 338h1v1h-1zM430 338h1v1h-1zM435 338h4v1h-4zM440 338h2v1h-2zM443 338h1v1h-1zM445 338h10v1h-10zM458 338h1v1h-1zM466 338h1v1h-1zM468 338h4v1h-4zM479 338h4v1h-4zM485 338h1v1h-1zM422 339h1v1h-1zM424 339h1v1h-1zM429 339h2v1h-2zM434 339h1v1h-1zM436 339h2v1h-2zM441 339h4v1h-4zM446 339h2v1h-2zM449 339h2v1h-2zM453 339h1v1h-1zM455 339h1v1h-1zM457 339h2v1h-2zM461 339h1v1h-1zM463 339h2v1h-2zM466 339h1v1h-1zM468 339h1v1h-1zM475 339h2v1h-2zM478 339h2v1h-2zM484 339h1v1h-1zM428 340h1v1h-1zM433 340h1v1h-1zM437 340h1v1h-1zM440 340h2v1h-2zM444 340h4v1h-4zM453 340h1v1h-1zM461 340h1v1h-1zM465 340h1v1h-1zM468 340h1v1h-1zM470 340h1v1h-1zM478 340h1v1h-1zM489 340h1v1h-1zM432 341h1v1h-1zM438 341h2v1h-2zM441 341h1v1h-1zM444 341h3v1h-3zM448 341h3v1h-3zM452 341h2v1h-2zM455 341h2v1h-2zM463 341h1v1h-1zM466 341h1v1h-1zM474 341h1v1h-1zM434 342h1v1h-1zM440 342h1v1h-1zM444 342h2v1h-2zM449 342h1v1h-1zM451 342h1v1h-1zM455 342h1v1h-1zM461 342h1v1h-1zM463 342h1v1h-1zM469 342h1v1h-1zM429 343h1v1h-1zM441 343h1v1h-1zM443 343h3v1h-3zM447 343h1v1h-1zM449 343h1v1h-1zM451 343h1v1h-1zM453 343h1v1h-1zM455 343h2v1h-2zM459 343h1v1h-1zM467 343h1v1h-1zM472 343h1v1h-1zM430 344h1v1h-1zM436 344h1v1h-1zM444 344h1v1h-1zM446 344h1v1h-1zM450 344h1v1h-1zM452 344h2v1h-2zM459 344h1v1h-1zM461 344h1v1h-1zM468 344h1v1h-1zM475 344h2v1h-2zM487 344h1v1h-1zM422 345h1v1h-1zM438 345h1v1h-1zM446 345h1v1h-1zM448 345h1v1h-1zM451 345h3v1h-3zM455 345h1v1h-1zM457 345h1v1h-1zM486 345h1v1h-1zM429 346h1v1h-1zM444 346h2v1h-2zM447 346h1v1h-1zM449 346h3v1h-3zM454 346h1v1h-1zM457 346h1v1h-1zM477 346h1v1h-1zM438 347h1v1h-1zM441 347h1v1h-1zM443 347h1v1h-1zM446 347h2v1h-2zM449 347h3v1h-3zM453 347h1v1h-1zM456 347h1v1h-1zM459 347h2v1h-2zM441 348h1v1h-1zM443 348h3v1h-3zM447 348h3v1h-3zM455 348h1v1h-1zM457 348h2v1h-2zM460 348h1v1h-1zM436 349h1v1h-1zM443 349h1v1h-1zM447 349h1v1h-1zM453 349h3v1h-3zM457 349h1v1h-1zM464 349h1v1h-1zM433 350h1v1h-1zM437 350h1v1h-1zM443 350h1v1h-1zM445 350h1v1h-1zM447 350h1v1h-1zM449 350h1v1h-1zM451 350h1v1h-1zM454 350h2v1h-2zM438 351h1v1h-1zM441 351h1v1h-1zM444 351h1v1h-1zM447 351h1v1h-1zM449 351h1v1h-1zM451 351h1v1h-1zM453 351h3v1h-3zM438 352h1v1h-1zM446 352h1v1h-1zM449 352h2v1h-2zM453 352h2v1h-2zM458 352h1v1h-1zM482 352h1v1h-1zM484 352h1v1h-1zM440 353h3v1h-3zM447 353h1v1h-1zM450 353h2v1h-2zM453 353h3v1h-3zM457 353h2v1h-2zM437 354h1v1h-1zM439 354h1v1h-1zM442 354h2v1h-2zM446 354h3v1h-3zM450 354h1v1h-1zM454 354h2v1h-2zM481 354h1v1h-1zM431 355h1v1h-1zM435 355h1v1h-1zM440 355h1v1h-1zM443 355h1v1h-1zM446 355h3v1h-3zM450 355h1v1h-1zM454 355h2v1h-2zM457 355h3v1h-3zM468 355h1v1h-1zM471 355h1v1h-1zM427 356h1v1h-1zM434 356h1v1h-1zM444 356h2v1h-2zM448 356h3v1h-3zM452 356h3v1h-3zM456 356h1v1h-1zM459 356h1v1h-1zM462 356h1v1h-1zM466 356h1v1h-1zM427 357h1v1h-1zM431 357h1v1h-1zM434 357h1v1h-1zM437 357h3v1h-3zM443 357h1v1h-1zM448 357h2v1h-2zM451 357h1v1h-1zM453 357h2v1h-2zM459 357h1v1h-1zM468 357h1v1h-1zM478 357h1v1h-1zM439 358h1v1h-1zM443 358h2v1h-2zM446 358h3v1h-3zM450 358h1v1h-1zM452 358h1v1h-1zM458 358h1v1h-1zM471 358h1v1h-1zM426 359h1v1h-1zM434 359h1v1h-1zM438 359h1v1h-1zM443 359h2v1h-2zM452 359h1v1h-1zM457 359h1v1h-1zM461 359h3v1h-3zM468 359h1v1h-1zM479 359h1v1h-1zM484 359h1v1h-1zM438 360h2v1h-2zM445 360h2v1h-2zM449 360h1v1h-1zM451 360h2v1h-2zM454 360h1v1h-1zM456 360h1v1h-1zM458 360h1v1h-1zM460 360h1v1h-1zM470 360h1v1h-1zM481 360h1v1h-1zM431 361h1v1h-1zM437 361h1v1h-1zM444 361h4v1h-4zM449 361h1v1h-1zM451 361h1v1h-1zM453 361h4v1h-4zM458 361h2v1h-2zM428 362h1v1h-1zM440 362h2v1h-2zM448 362h3v1h-3zM452 362h11v1h-11zM464 362h2v1h-2zM468 362h2v1h-2zM471 362h1v1h-1zM477 362h1v1h-1zM430 363h1v1h-1zM433 363h1v1h-1zM439 363h1v1h-1zM441 363h1v1h-1zM445 363h3v1h-3zM449 363h3v1h-3zM453 363h2v1h-2zM457 363h1v1h-1zM459 363h2v1h-2zM463 363h1v1h-1zM465 363h1v1h-1zM469 363h2v1h-2zM418 364h1v1h-1zM434 364h1v1h-1zM443 364h2v1h-2zM447 364h1v1h-1zM449 364h2v1h-2zM453 364h2v1h-2zM456 364h2v1h-2zM459 364h1v1h-1zM462 364h3v1h-3zM467 364h1v1h-1zM473 364h1v1h-1zM476 364h2v1h-2zM419 365h1v1h-1zM424 365h1v1h-1zM431 365h1v1h-1zM435 365h1v1h-1zM438 365h5v1h-5zM445 365h1v1h-1zM447 365h9v1h-9zM457 365h6v1h-6zM464 365h3v1h-3zM471 365h2v1h-2zM476 365h1v1h-1zM431 366h1v1h-1zM433 366h1v1h-1zM436 366h1v1h-1zM438 366h1v1h-1zM442 366h2v1h-2zM445 366h1v1h-1zM448 366h14v1h-14zM463 366h2v1h-2zM469 366h1v1h-1zM476 366h2v1h-2zM436 367h2v1h-2zM439 367h6v1h-6zM446 367h2v1h-2zM449 367h2v1h-2zM452 367h8v1h-8zM461 367h2v1h-2zM464 367h3v1h-3zM473 367h1v1h-1zM481 367h1v1h-1zM483 367h1v1h-1zM417 368h1v1h-1zM420 368h1v1h-1zM426 368h1v1h-1zM434 368h1v1h-1zM436 368h3v1h-3zM441 368h2v1h-2zM444 368h1v1h-1zM446 368h17v1h-17zM464 368h1v1h-1zM466 368h1v1h-1zM472 368h1v1h-1zM474 368h1v1h-1zM477 368h1v1h-1zM502 368h1v1h-1zM417 369h1v1h-1zM431 369h1v1h-1zM433 369h1v1h-1zM436 369h4v1h-4zM441 369h2v1h-2zM444 369h2v1h-2zM447 369h13v1h-13zM461 369h3v1h-3zM468 369h2v1h-2zM471 369h1v1h-1zM475 369h1v1h-1zM477 369h3v1h-3zM497 369h1v1h-1zM430 370h1v1h-1zM432 370h5v1h-5zM439 370h5v1h-5zM445 370h1v1h-1zM447 370h16v1h-16zM464 370h3v1h-3zM470 370h2v1h-2zM476 370h1v1h-1zM429 371h1v1h-1zM433 371h1v1h-1zM435 371h24v1h-24zM460 371h3v1h-3zM464 371h3v1h-3zM468 371h1v1h-1zM477 371h1v1h-1zM482 371h2v1h-2zM491 371h1v1h-1zM420 372h1v1h-1zM430 372h1v1h-1zM434 372h1v1h-1zM436 372h1v1h-1zM439 372h3v1h-3zM443 372h22v1h-22zM466 372h1v1h-1zM472 372h4v1h-4zM477 372h1v1h-1zM425 373h1v1h-1zM427 373h2v1h-2zM430 373h2v1h-2zM436 373h3v1h-3zM440 373h20v1h-20zM461 373h7v1h-7zM469 373h1v1h-1zM471 373h1v1h-1zM420 374h1v1h-1zM423 374h2v1h-2zM426 374h1v1h-1zM429 374h1v1h-1zM432 374h1v1h-1zM434 374h1v1h-1zM438 374h2v1h-2zM441 374h4v1h-4zM446 374h19v1h-19zM466 374h2v1h-2zM469 374h1v1h-1zM474 374h1v1h-1zM476 374h1v1h-1zM480 374h1v1h-1zM493 374h1v1h-1zM428 375h3v1h-3zM432 375h5v1h-5zM438 375h29v1h-29zM468 375h2v1h-2zM474 375h1v1h-1zM477 375h1v1h-1zM481 375h1v1h-1zM484 375h1v1h-1zM429 376h1v1h-1zM433 376h2v1h-2zM436 376h4v1h-4zM441 376h3v1h-3zM445 376h20v1h-20zM466 376h2v1h-2zM469 376h2v1h-2zM472 376h1v1h-1zM474 376h1v1h-1zM476 376h1v1h-1zM479 376h1v1h-1zM421 377h1v1h-1zM424 377h2v1h-2zM427 377h3v1h-3zM431 377h4v1h-4zM437 377h28v1h-28zM467 377h1v1h-1zM469 377h2v1h-2zM472 377h1v1h-1zM477 377h1v1h-1zM484 377h1v1h-1zM489 377h2v1h-2zM505 377h1v1h-1zM426 378h1v1h-1zM428 378h2v1h-2zM432 378h2v1h-2zM435 378h1v1h-1zM437 378h4v1h-4zM442 378h20v1h-20zM463 378h8v1h-8zM474 378h1v1h-1zM481 378h1v1h-1zM421 379h1v1h-1zM424 379h1v1h-1zM431 379h2v1h-2zM434 379h2v1h-2zM437 379h4v1h-4zM442 379h25v1h-25zM468 379h2v1h-2zM471 379h3v1h-3zM477 379h1v1h-1zM481 379h2v1h-2zM493 379h1v1h-1zM420 380h1v1h-1zM422 380h1v1h-1zM424 380h1v1h-1zM428 380h1v1h-1zM430 380h1v1h-1zM432 380h2v1h-2zM436 380h1v1h-1zM438 380h1v1h-1zM440 380h24v1h-24zM465 380h4v1h-4zM470 380h1v1h-1zM476 380h1v1h-1zM479 380h1v1h-1zM481 380h1v1h-1zM483 380h1v1h-1zM431 381h3v1h-3zM435 381h13v1h-13zM449 381h2v1h-2zM452 381h12v1h-12zM465 381h11v1h-11zM477 381h1v1h-1zM480 381h2v1h-2zM483 381h1v1h-1zM419 382h1v1h-1zM427 382h1v1h-1zM432 382h1v1h-1zM435 382h3v1h-3zM440 382h3v1h-3zM444 382h1v1h-1zM447 382h17v1h-17zM466 382h1v1h-1zM468 382h1v1h-1zM471 382h1v1h-1zM473 382h1v1h-1zM482 382h1v1h-1zM493 382h1v1h-1zM422 383h2v1h-2zM428 383h3v1h-3zM435 383h1v1h-1zM437 383h2v1h-2zM441 383h26v1h-26zM468 383h1v1h-1zM470 383h3v1h-3zM476 383h1v1h-1zM479 383h3v1h-3zM484 383h1v1h-1zM420 384h1v1h-1zM428 384h1v1h-1zM430 384h1v1h-1zM432 384h1v1h-1zM436 384h5v1h-5zM442 384h2v1h-2zM445 384h22v1h-22zM469 384h1v1h-1zM471 384h1v1h-1zM473 384h1v1h-1zM419 385h1v1h-1zM426 385h1v1h-1zM429 385h1v1h-1zM434 385h4v1h-4zM441 385h5v1h-5zM447 385h19v1h-19zM467 385h1v1h-1zM469 385h1v1h-1zM472 385h1v1h-1zM474 385h3v1h-3zM481 385h1v1h-1zM423 386h1v1h-1zM433 386h2v1h-2zM438 386h27v1h-27zM467 386h5v1h-5zM473 386h1v1h-1zM477 386h1v1h-1zM481 386h1v1h-1zM427 387h1v1h-1zM429 387h1v1h-1zM431 387h1v1h-1zM435 387h1v1h-1zM438 387h2v1h-2zM443 387h24v1h-24zM469 387h1v1h-1zM471 387h2v1h-2zM496 387h1v1h-1zM430 388h1v1h-1zM437 388h3v1h-3zM441 388h7v1h-7zM449 388h13v1h-13zM464 388h3v1h-3zM470 388h3v1h-3zM483 388h1v1h-1zM487 388h2v1h-2zM425 389h1v1h-1zM428 389h1v1h-1zM433 389h1v1h-1zM436 389h4v1h-4zM441 389h1v1h-1zM444 389h1v1h-1zM446 389h22v1h-22zM474 389h1v1h-1zM424 390h1v1h-1zM427 390h1v1h-1zM435 390h3v1h-3zM440 390h1v1h-1zM442 390h1v1h-1zM444 390h9v1h-9zM454 390h9v1h-9zM464 390h3v1h-3zM471 390h1v1h-1zM482 390h1v1h-1zM488 390h1v1h-1zM423 391h2v1h-2zM426 391h2v1h-2zM437 391h2v1h-2zM440 391h1v1h-1zM443 391h1v1h-1zM446 391h4v1h-4zM451 391h1v1h-1zM453 391h5v1h-5zM459 391h4v1h-4zM468 391h1v1h-1zM470 391h2v1h-2zM474 391h1v1h-1zM479 391h1v1h-1zM495 391h1v1h-1zM417 392h1v1h-1zM429 392h1v1h-1zM436 392h4v1h-4zM442 392h10v1h-10zM453 392h6v1h-6zM461 392h2v1h-2zM464 392h1v1h-1zM469 392h1v1h-1zM475 392h1v1h-1zM483 392h1v1h-1zM436 393h2v1h-2zM439 393h1v1h-1zM443 393h1v1h-1zM446 393h2v1h-2zM449 393h11v1h-11zM461 393h2v1h-2zM465 393h1v1h-1zM472 393h2v1h-2zM478 393h1v1h-1zM434 394h1v1h-1zM437 394h1v1h-1zM441 394h5v1h-5zM448 394h4v1h-4zM453 394h2v1h-2zM456 394h10v1h-10zM468 394h1v1h-1zM491 394h1v1h-1z" fill="#cbcbcb"/>
<rect x="415.25" y="303.35" width="92.00" height="93.35" fill="none" stroke="#111" stroke-width="1.5"/>
<path d="M461.8 303.35V396.7M415.25 357.2H507.25" stroke="#111" stroke-width="1.5" fill="none"/>
<path d="M415.25 396.7v4.2M438.25 396.7v4.2M461.25 396.7v4.2M484.25 396.7v4.2M507.25 396.7v4.2M422.17 396.7v2.6M426.22 396.7v2.6M429.10 396.7v2.6M431.33 396.7v2.6M433.15 396.7v2.6M434.69 396.7v2.6M436.02 396.7v2.6M437.20 396.7v2.6M445.17 396.7v2.6M449.22 396.7v2.6M452.10 396.7v2.6M454.33 396.7v2.6M456.15 396.7v2.6M457.69 396.7v2.6M459.02 396.7v2.6M460.20 396.7v2.6M468.17 396.7v2.6M472.22 396.7v2.6M475.10 396.7v2.6M477.33 396.7v2.6M479.15 396.7v2.6M480.69 396.7v2.6M482.02 396.7v2.6M483.20 396.7v2.6M491.17 396.7v2.6M495.22 396.7v2.6M498.10 396.7v2.6M500.33 396.7v2.6M502.15 396.7v2.6M503.69 396.7v2.6M505.02 396.7v2.6M506.20 396.7v2.6M415.25 396.70h-4.2M415.25 373.36h-4.2M415.25 350.02h-4.2M415.25 326.69h-4.2M415.25 303.35h-4.2M415.25 389.67h-2.6M415.25 385.57h-2.6M415.25 382.65h-2.6M415.25 380.39h-2.6M415.25 378.54h-2.6M415.25 376.98h-2.6M415.25 375.62h-2.6M415.25 374.43h-2.6M415.25 366.34h-2.6M415.25 362.23h-2.6M415.25 359.31h-2.6M415.25 357.05h-2.6M415.25 355.20h-2.6M415.25 353.64h-2.6M415.25 352.29h-2.6M415.25 351.09h-2.6M415.25 343.00h-2.6M415.25 338.89h-2.6M415.25 335.97h-2.6M415.25 333.71h-2.6M415.25 331.86h-2.6M415.25 330.30h-2.6M415.25 328.95h-2.6M415.25 327.76h-2.6M415.25 319.66h-2.6M415.25 315.55h-2.6M415.25 312.64h-2.6M415.25 310.38h-2.6M415.25 308.53h-2.6M415.25 306.97h-2.6M415.25 305.61h-2.6M415.25 304.42h-2.6" stroke="#111" stroke-width="1.3" fill="none"/>
<text transform="translate(409.88,410.50) scale(0.77,1)" font-size="9.3" text-anchor="start" fill="#111"  stroke="#111" stroke-width="0.5">10</text>
<text transform="translate(418.04,405.40) scale(0.77,1)" font-size="9.0" text-anchor="start" fill="#111"  stroke="#111" stroke-width="0.5">0</text>
<text transform="translate(432.68,410.50) scale(0.77,1)" font-size="9.3" text-anchor="start" fill="#111"  stroke="#111" stroke-width="0.5">10</text>
<text transform="translate(440.84,405.40) scale(0.77,1)" font-size="9.0" text-anchor="start" fill="#111"  stroke="#111" stroke-width="0.5">1</text>
<text transform="translate(455.48,410.50) scale(0.77,1)" font-size="9.3" text-anchor="start" fill="#111"  stroke="#111" stroke-width="0.5">10</text>
<text transform="translate(463.64,405.40) scale(0.77,1)" font-size="9.0" text-anchor="start" fill="#111"  stroke="#111" stroke-width="0.5">2</text>
<text transform="translate(478.28,410.50) scale(0.77,1)" font-size="9.3" text-anchor="start" fill="#111"  stroke="#111" stroke-width="0.5">10</text>
<text transform="translate(486.44,405.40) scale(0.77,1)" font-size="9.0" text-anchor="start" fill="#111"  stroke="#111" stroke-width="0.5">3</text>
<text transform="translate(501.08,410.50) scale(0.77,1)" font-size="9.3" text-anchor="start" fill="#111"  stroke="#111" stroke-width="0.5">10</text>
<text transform="translate(509.24,405.40) scale(0.77,1)" font-size="9.0" text-anchor="start" fill="#111"  stroke="#111" stroke-width="0.5">4</text>
<text transform="translate(408.95,402.50) rotate(-90) scale(0.77,1)" font-size="8.8" text-anchor="start" fill="#111"  stroke="#111" stroke-width="0.5">10</text>
<text transform="translate(404.65,393.67) rotate(-90) scale(0.77,1)" font-size="8.8" text-anchor="start" fill="#111"  stroke="#111" stroke-width="0.5">0</text>
<text transform="translate(408.95,379.16) rotate(-90) scale(0.77,1)" font-size="8.8" text-anchor="start" fill="#111"  stroke="#111" stroke-width="0.5">10</text>
<text transform="translate(404.65,370.33) rotate(-90) scale(0.77,1)" font-size="8.8" text-anchor="start" fill="#111"  stroke="#111" stroke-width="0.5">1</text>
<text transform="translate(408.95,355.83) rotate(-90) scale(0.77,1)" font-size="8.8" text-anchor="start" fill="#111"  stroke="#111" stroke-width="0.5">10</text>
<text transform="translate(404.65,346.99) rotate(-90) scale(0.77,1)" font-size="8.8" text-anchor="start" fill="#111"  stroke="#111" stroke-width="0.5">2</text>
<text transform="translate(408.95,332.49) rotate(-90) scale(0.77,1)" font-size="8.8" text-anchor="start" fill="#111"  stroke="#111" stroke-width="0.5">10</text>
<text transform="translate(404.65,323.65) rotate(-90) scale(0.77,1)" font-size="8.8" text-anchor="start" fill="#111"  stroke="#111" stroke-width="0.5">3</text>
<text transform="translate(408.95,309.15) rotate(-90) scale(0.77,1)" font-size="8.8" text-anchor="start" fill="#111"  stroke="#111" stroke-width="0.5">10</text>
<text transform="translate(404.65,300.32) rotate(-90) scale(0.77,1)" font-size="8.8" text-anchor="start" fill="#111"  stroke="#111" stroke-width="0.5">4</text>
<text transform="translate(398.45,351.02) rotate(-90) scale(0.97,1)" font-size="7.5" text-anchor="middle" fill="#111"  stroke="#111" stroke-width="0.4">FL4-H</text>
<text transform="translate(459.20,417.20) scale(0.9,1)" font-size="8.2" text-anchor="middle" fill="#111"  stroke="#111" stroke-width="0.4">FL1-H</text>
<text transform="translate(420.00,314.10) scale(0.96,1)" font-size="10.0" text-anchor="start" fill="#111"  stroke="#111" stroke-width="0.25">68,2</text>
<text transform="translate(500.20,314.10) scale(0.96,1)" font-size="10.0" text-anchor="end" fill="#111"  stroke="#111" stroke-width="0.25">6,8</text>
<text transform="translate(496.50,392.70) scale(0.96,1)" font-size="10.0" text-anchor="end" fill="#111"  stroke="#111" stroke-width="0.25">7,1</text>
</svg>
</body></html>
